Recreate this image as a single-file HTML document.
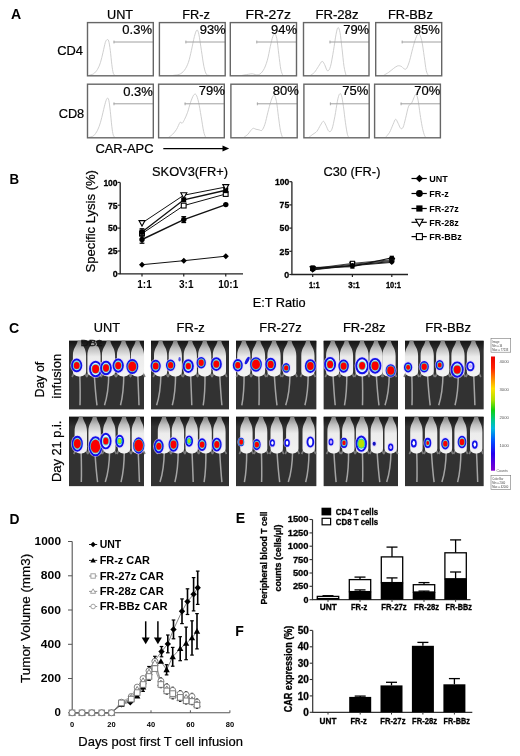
<!DOCTYPE html>
<html><head><meta charset="utf-8"><title>Figure</title><style>html,body{margin:0;padding:0;background:#fff;width:520px;height:756px;overflow:hidden;}svg text{font-family:"Liberation Sans",sans-serif;stroke:#000;stroke-width:0.22px;paint-order:stroke;} svg text[font-weight="bold"]{stroke:none;} svg text.cal{stroke:#000;stroke-width:0.3px;}</style></head><body>
<svg width="520" height="756" viewBox="0 0 520 756" style="position:absolute;left:0;top:0;will-change:transform" font-family='"Liberation Sans", sans-serif'>
<rect width="520" height="756" fill="#fff"/>
<text x="11.1" y="18.8" font-size="14.6" font-weight="bold" textLength="10.2" lengthAdjust="spacingAndGlyphs" fill="#000">A</text>
<text x="107.0" y="18.5" font-size="13" textLength="26.1" lengthAdjust="spacingAndGlyphs" fill="#000">UNT</text>
<text x="182.3" y="18.5" font-size="13" textLength="27.7" lengthAdjust="spacingAndGlyphs" fill="#000">FR-z</text>
<text x="245.4" y="18.5" font-size="13" textLength="45.6" lengthAdjust="spacingAndGlyphs" fill="#000">FR-27z</text>
<text x="315.4" y="18.5" font-size="13" textLength="43.1" lengthAdjust="spacingAndGlyphs" fill="#000">FR-28z</text>
<text x="388.0" y="18.5" font-size="13" textLength="44.8" lengthAdjust="spacingAndGlyphs" fill="#000">FR-BBz</text>
<text x="57.3" y="54.8" font-size="13" textLength="25.7" lengthAdjust="spacingAndGlyphs" fill="#000">CD4</text>
<text x="58.7" y="118.3" font-size="13" textLength="25.5" lengthAdjust="spacingAndGlyphs" fill="#000">CD8</text>
<path d="M89.00,75.30 C89.75,75.05 92.08,74.81 93.50,73.81 C94.92,72.82 96.33,71.24 97.50,69.34 C98.67,67.43 99.58,65.19 100.50,62.38 C101.42,59.56 102.20,55.75 103.00,52.43 C103.80,49.12 104.62,44.61 105.30,42.49 C105.98,40.37 106.53,39.95 107.10,39.70 C107.67,39.45 108.17,39.21 108.70,41.00 C109.23,42.79 109.78,46.55 110.30,50.44 C110.82,54.34 111.30,60.55 111.80,64.36 C112.30,68.18 112.77,71.49 113.30,73.31 C113.83,75.14 114.72,74.97 115.00,75.30" fill="none" stroke="#cacaca" stroke-width="0.9"/>
<line x1="113.5" y1="42.0" x2="153.3" y2="42.0" stroke="#a0a0a0" stroke-width="1"/>
<line x1="114.0" y1="40.5" x2="114.0" y2="43.5" stroke="#a0a0a0" stroke-width="0.8"/>
<rect x="87.5" y="22.6" width="65.8" height="53.2" fill="none" stroke="#666" stroke-width="1.4"/>
<text x="152.0" y="34.4" font-size="13" text-anchor="end" fill="#000">0.3%</text>
<path d="M173.40,75.30 C174.40,75.14 177.57,75.14 179.40,74.31 C181.23,73.48 182.90,72.32 184.40,70.33 C185.90,68.34 187.23,65.69 188.40,62.38 C189.57,59.06 190.40,54.75 191.40,50.44 C192.40,46.13 193.48,39.92 194.40,36.52 C195.32,33.12 196.15,30.39 196.90,30.06 C197.65,29.73 198.15,31.14 198.90,34.53 C199.65,37.93 200.57,45.14 201.40,50.44 C202.23,55.75 203.07,62.38 203.90,66.35 C204.73,70.33 205.48,72.82 206.40,74.31 C207.32,75.80 208.90,75.14 209.40,75.30" fill="none" stroke="#cacaca" stroke-width="0.9"/>
<line x1="185.4" y1="42.0" x2="225.2" y2="42.0" stroke="#a0a0a0" stroke-width="1"/>
<line x1="185.9" y1="40.5" x2="185.9" y2="43.5" stroke="#a0a0a0" stroke-width="0.8"/>
<rect x="159.4" y="22.6" width="65.8" height="53.2" fill="none" stroke="#666" stroke-width="1.4"/>
<text x="225.7" y="34.4" font-size="13" text-anchor="end" fill="#000">93%</text>
<path d="M242.30,75.30 C243.30,75.14 246.63,74.56 248.30,74.31 C249.97,74.06 250.63,73.73 252.30,73.81 C253.97,73.89 256.47,75.39 258.30,74.81 C260.13,74.23 261.80,72.73 263.30,70.33 C264.80,67.93 266.13,64.36 267.30,60.39 C268.47,56.41 269.38,50.44 270.30,46.47 C271.22,42.49 272.05,38.59 272.80,36.52 C273.55,34.45 274.13,33.70 274.80,34.04 C275.47,34.37 276.13,35.11 276.80,38.51 C277.47,41.91 278.13,49.28 278.80,54.42 C279.47,59.56 280.13,65.86 280.80,69.34 C281.47,72.82 282.47,74.31 282.80,75.30" fill="none" stroke="#cacaca" stroke-width="0.9"/>
<line x1="256.3" y1="42.0" x2="296.5" y2="42.0" stroke="#a0a0a0" stroke-width="1"/>
<line x1="256.8" y1="40.5" x2="256.8" y2="43.5" stroke="#a0a0a0" stroke-width="0.8"/>
<rect x="230.3" y="22.6" width="66.2" height="53.2" fill="none" stroke="#666" stroke-width="1.4"/>
<text x="297.0" y="34.4" font-size="13" text-anchor="end" fill="#000">94%</text>
<path d="M310.50,75.30 C311.17,74.81 313.17,73.81 314.50,72.32 C315.83,70.83 317.25,68.18 318.50,66.35 C319.75,64.53 321.00,61.71 322.00,61.38 C323.00,61.05 323.58,62.79 324.50,64.36 C325.42,65.94 326.50,70.50 327.50,70.83 C328.50,71.16 329.50,69.75 330.50,66.35 C331.50,62.96 332.58,55.75 333.50,50.44 C334.42,45.14 335.25,38.34 336.00,34.53 C336.75,30.72 337.33,27.90 338.00,27.57 C338.67,27.24 339.33,29.06 340.00,32.54 C340.67,36.02 341.33,42.82 342.00,48.45 C342.67,54.09 343.33,61.88 344.00,66.35 C344.67,70.83 345.67,73.81 346.00,75.30" fill="none" stroke="#cacaca" stroke-width="0.9"/>
<line x1="329.5" y1="42.0" x2="369.0" y2="42.0" stroke="#a0a0a0" stroke-width="1"/>
<line x1="330.0" y1="40.5" x2="330.0" y2="43.5" stroke="#a0a0a0" stroke-width="0.8"/>
<rect x="303.5" y="22.6" width="65.5" height="53.2" fill="none" stroke="#666" stroke-width="1.4"/>
<text x="369.2" y="34.4" font-size="13" text-anchor="end" fill="#000">79%</text>
<path d="M383.70,75.30 C384.53,74.81 387.03,73.48 388.70,72.32 C390.37,71.16 392.20,69.42 393.70,68.34 C395.20,67.26 396.45,66.19 397.70,65.86 C398.95,65.52 400.12,65.86 401.20,66.35 C402.28,66.85 403.28,68.51 404.20,68.84 C405.12,69.17 405.78,69.75 406.70,68.34 C407.62,66.93 408.70,63.70 409.70,60.39 C410.70,57.07 411.70,52.10 412.70,48.45 C413.70,44.81 414.70,41.00 415.70,38.51 C416.70,36.02 417.70,33.21 418.70,33.54 C419.70,33.87 420.78,36.69 421.70,40.50 C422.62,44.31 423.45,51.44 424.20,56.41 C424.95,61.38 425.53,67.18 426.20,70.33 C426.87,73.48 427.87,74.47 428.20,75.30" fill="none" stroke="#cacaca" stroke-width="0.9"/>
<line x1="401.7" y1="42.0" x2="441.7" y2="42.0" stroke="#a0a0a0" stroke-width="1"/>
<line x1="402.2" y1="40.5" x2="402.2" y2="43.5" stroke="#a0a0a0" stroke-width="0.8"/>
<rect x="375.7" y="22.6" width="66.0" height="53.2" fill="none" stroke="#666" stroke-width="1.4"/>
<text x="439.8" y="34.4" font-size="13" text-anchor="end" fill="#000">85%</text>
<path d="M89.00,137.30 C89.75,137.05 92.08,136.97 93.50,135.80 C94.92,134.63 96.33,132.54 97.50,130.29 C98.67,128.03 99.58,125.28 100.50,122.27 C101.42,119.27 102.17,115.59 103.00,112.25 C103.83,108.91 104.78,104.57 105.50,102.23 C106.22,99.90 106.75,98.56 107.30,98.23 C107.85,97.89 108.30,98.06 108.80,100.23 C109.30,102.40 109.80,106.91 110.30,111.25 C110.80,115.59 111.30,122.27 111.80,126.28 C112.30,130.29 112.77,133.46 113.30,135.30 C113.83,137.13 114.72,136.97 115.00,137.30" fill="none" stroke="#cacaca" stroke-width="0.9"/>
<line x1="113.5" y1="103.8" x2="153.3" y2="103.8" stroke="#a0a0a0" stroke-width="1"/>
<line x1="114.0" y1="102.3" x2="114.0" y2="105.3" stroke="#a0a0a0" stroke-width="0.8"/>
<rect x="87.5" y="84.2" width="65.8" height="53.6" fill="none" stroke="#666" stroke-width="1.4"/>
<text x="152.8" y="96.2" font-size="13" text-anchor="end" fill="#000">0.3%</text>
<path d="M168.60,137.30 C169.27,136.80 171.27,135.63 172.60,134.29 C173.93,132.96 175.35,131.29 176.60,129.28 C177.85,127.28 179.18,123.27 180.10,122.27 C181.02,121.27 181.35,123.77 182.10,123.27 C182.85,122.77 183.68,121.10 184.60,119.27 C185.52,117.43 186.60,115.09 187.60,112.25 C188.60,109.41 189.60,105.07 190.60,102.23 C191.60,99.40 192.68,96.47 193.60,95.22 C194.52,93.97 195.27,93.55 196.10,94.72 C196.93,95.89 197.77,98.64 198.60,102.23 C199.43,105.82 200.27,111.42 201.10,116.26 C201.93,121.10 202.85,127.78 203.60,131.29 C204.35,134.79 205.27,136.30 205.60,137.30" fill="none" stroke="#cacaca" stroke-width="0.9"/>
<line x1="184.6" y1="103.8" x2="224.3" y2="103.8" stroke="#a0a0a0" stroke-width="1"/>
<line x1="185.1" y1="102.3" x2="185.1" y2="105.3" stroke="#a0a0a0" stroke-width="0.8"/>
<rect x="158.6" y="84.2" width="65.7" height="53.6" fill="none" stroke="#666" stroke-width="1.4"/>
<text x="224.9" y="95.3" font-size="13" text-anchor="end" fill="#000">79%</text>
<path d="M243.90,137.30 C244.57,136.80 246.73,135.46 247.90,134.29 C249.07,133.12 249.98,131.29 250.90,130.29 C251.82,129.28 252.57,128.45 253.40,128.28 C254.23,128.12 254.98,129.03 255.90,129.28 C256.82,129.53 257.90,129.62 258.90,129.79 C259.90,129.95 260.90,131.20 261.90,130.29 C262.90,129.37 263.90,127.28 264.90,124.27 C265.90,121.27 266.90,116.09 267.90,112.25 C268.90,108.41 269.90,104.07 270.90,101.23 C271.90,98.39 272.98,95.22 273.90,95.22 C274.82,95.22 275.65,97.73 276.40,101.23 C277.15,104.74 277.73,111.42 278.40,116.26 C279.07,121.10 279.73,126.78 280.40,130.29 C281.07,133.79 282.07,136.13 282.40,137.30" fill="none" stroke="#cacaca" stroke-width="0.9"/>
<line x1="256.9" y1="103.8" x2="297.2" y2="103.8" stroke="#a0a0a0" stroke-width="1"/>
<line x1="257.4" y1="102.3" x2="257.4" y2="105.3" stroke="#a0a0a0" stroke-width="0.8"/>
<rect x="230.9" y="84.2" width="66.3" height="53.6" fill="none" stroke="#666" stroke-width="1.4"/>
<text x="298.8" y="95.3" font-size="13" text-anchor="end" fill="#000">80%</text>
<path d="M308.90,137.30 C309.57,136.80 311.57,135.30 312.90,134.29 C314.23,133.29 315.65,132.79 316.90,131.29 C318.15,129.79 319.32,126.95 320.40,125.28 C321.48,123.61 322.48,121.27 323.40,121.27 C324.32,121.27 324.98,123.61 325.90,125.28 C326.82,126.95 327.90,130.62 328.90,131.29 C329.90,131.96 330.90,131.79 331.90,129.28 C332.90,126.78 333.98,120.94 334.90,116.26 C335.82,111.58 336.65,104.91 337.40,101.23 C338.15,97.56 338.73,95.22 339.40,94.22 C340.07,93.22 340.73,93.22 341.40,95.22 C342.07,97.22 342.73,101.73 343.40,106.24 C344.07,110.75 344.73,117.60 345.40,122.27 C346.07,126.95 346.82,131.79 347.40,134.29 C347.98,136.80 348.65,136.80 348.90,137.30" fill="none" stroke="#cacaca" stroke-width="0.9"/>
<line x1="329.9" y1="103.8" x2="369.2" y2="103.8" stroke="#a0a0a0" stroke-width="1"/>
<line x1="330.4" y1="102.3" x2="330.4" y2="105.3" stroke="#a0a0a0" stroke-width="0.8"/>
<rect x="303.9" y="84.2" width="65.3" height="53.6" fill="none" stroke="#666" stroke-width="1.4"/>
<text x="368.3" y="95.3" font-size="13" text-anchor="end" fill="#000">75%</text>
<path d="M385.60,137.30 C386.27,136.46 388.35,134.46 389.60,132.29 C390.85,130.12 392.10,126.45 393.10,124.27 C394.10,122.10 394.77,119.43 395.60,119.27 C396.43,119.10 397.27,121.77 398.10,123.27 C398.93,124.78 399.77,127.61 400.60,128.28 C401.43,128.95 402.27,128.95 403.10,127.28 C403.93,125.61 404.68,121.77 405.60,118.26 C406.52,114.76 407.60,108.75 408.60,106.24 C409.60,103.74 410.68,104.74 411.60,103.24 C412.52,101.73 413.35,98.73 414.10,97.22 C414.85,95.72 415.43,93.72 416.10,94.22 C416.77,94.72 417.43,96.89 418.10,100.23 C418.77,103.57 419.43,109.91 420.10,114.26 C420.77,118.60 421.43,122.94 422.10,126.28 C422.77,129.62 423.52,132.46 424.10,134.29 C424.68,136.13 425.35,136.80 425.60,137.30" fill="none" stroke="#cacaca" stroke-width="0.9"/>
<line x1="400.6" y1="103.8" x2="440.4" y2="103.8" stroke="#a0a0a0" stroke-width="1"/>
<line x1="401.1" y1="102.3" x2="401.1" y2="105.3" stroke="#a0a0a0" stroke-width="0.8"/>
<rect x="374.6" y="84.2" width="65.8" height="53.6" fill="none" stroke="#666" stroke-width="1.4"/>
<text x="440.3" y="95.3" font-size="13" text-anchor="end" fill="#000">70%</text>
<text x="95.4" y="152.9" font-size="13" textLength="58.1" lengthAdjust="spacingAndGlyphs" fill="#000">CAR-APC</text>
<line x1="163.3" y1="148.6" x2="224" y2="148.6" stroke="#000" stroke-width="1.3"/>
<path d="M222.5,145.6 L229.2,148.6 L222.5,151.6 Z" fill="#000"/>
<text x="9.6" y="183.8" font-size="14.6" font-weight="bold" textLength="9.6" lengthAdjust="spacingAndGlyphs" fill="#000">B</text>
<text x="152.0" y="176.3" font-size="13" textLength="76.0" lengthAdjust="spacingAndGlyphs" fill="#000">SKOV3(FR+)</text>
<text x="323.5" y="176.3" font-size="13" textLength="56.9" lengthAdjust="spacingAndGlyphs" fill="#000">C30 (FR-)</text>
<text transform="translate(94.6,221.3) rotate(-90)" x="0" y="0" font-size="13" text-anchor="middle" textLength="102.5" lengthAdjust="spacingAndGlyphs" fill="#000">Specific Lysis (%)</text>
<text x="252.7" y="306.5" font-size="13" textLength="52.9" lengthAdjust="spacingAndGlyphs" fill="#000">E:T Ratio</text>
<path d="M120.2,182.4 L120.2,273.8 L243.0,273.8" fill="none" stroke="#222" stroke-width="1.3"/>
<line x1="117.60000000000001" y1="273.8" x2="120.2" y2="273.8" stroke="#222" stroke-width="1.2"/>
<text x="117.6" y="277.1" font-size="9.3" font-weight="bold" text-anchor="end" textLength="4.9" lengthAdjust="spacingAndGlyphs" class="cal" fill="#000">0</text>
<line x1="117.60000000000001" y1="251.0" x2="120.2" y2="251.0" stroke="#222" stroke-width="1.2"/>
<text x="117.6" y="254.3" font-size="9.3" font-weight="bold" text-anchor="end" textLength="9.6" lengthAdjust="spacingAndGlyphs" class="cal" fill="#000">25</text>
<line x1="117.60000000000001" y1="228.1" x2="120.2" y2="228.1" stroke="#222" stroke-width="1.2"/>
<text x="117.6" y="231.4" font-size="9.3" font-weight="bold" text-anchor="end" textLength="9.6" lengthAdjust="spacingAndGlyphs" class="cal" fill="#000">50</text>
<line x1="117.60000000000001" y1="205.2" x2="120.2" y2="205.2" stroke="#222" stroke-width="1.2"/>
<text x="117.6" y="208.6" font-size="9.3" font-weight="bold" text-anchor="end" textLength="9.6" lengthAdjust="spacingAndGlyphs" class="cal" fill="#000">75</text>
<line x1="117.60000000000001" y1="182.4" x2="120.2" y2="182.4" stroke="#222" stroke-width="1.2"/>
<text x="117.6" y="185.7" font-size="9.3" font-weight="bold" text-anchor="end" textLength="14.2" lengthAdjust="spacingAndGlyphs" class="cal" fill="#000">100</text>
<line x1="142.0" y1="273.8" x2="142.0" y2="276.40000000000003" stroke="#222" stroke-width="1.2"/>
<text x="144.5" y="288.2" font-size="10" font-weight="bold" text-anchor="middle" fill="#000">1:1</text>
<line x1="183.75" y1="273.8" x2="183.75" y2="276.40000000000003" stroke="#222" stroke-width="1.2"/>
<text x="186.25" y="288.2" font-size="10" font-weight="bold" text-anchor="middle" fill="#000">3:1</text>
<line x1="225.75" y1="273.8" x2="225.75" y2="276.40000000000003" stroke="#222" stroke-width="1.2"/>
<text x="228.25" y="288.2" font-size="10" font-weight="bold" text-anchor="middle" fill="#000">10:1</text>
<path d="M142.0,264.7 L183.8,260.7 L225.8,256.2" fill="none" stroke="#111" stroke-width="1.0"/>
<path d="M142.0,239.5 L183.8,219.6 L225.8,204.6" fill="none" stroke="#111" stroke-width="1.4"/>
<path d="M142.0,233.6 L183.8,205.6 L225.8,194.0" fill="none" stroke="#111" stroke-width="1.0"/>
<path d="M142.0,232.0 L183.8,199.8 L225.8,190.2" fill="none" stroke="#111" stroke-width="1.4"/>
<path d="M142.0,223.0 L183.8,195.2 L225.8,187.0" fill="none" stroke="#111" stroke-width="1.0"/>
<path d="M142.0,261.7 L145.0,264.7 L142.0,267.7 L139.0,264.7 Z" fill="#000"/>
<path d="M183.8,257.7 L186.8,260.7 L183.8,263.7 L180.8,260.7 Z" fill="#000"/>
<path d="M225.8,253.2 L228.8,256.2 L225.8,259.2 L222.8,256.2 Z" fill="#000"/>
<line x1="142.0" y1="235.9" x2="142.0" y2="243.2" stroke="#000" stroke-width="1.3"/>
<line x1="139.6" y1="235.9" x2="144.4" y2="235.9" stroke="#000" stroke-width="1.3"/>
<line x1="139.6" y1="243.2" x2="144.4" y2="243.2" stroke="#000" stroke-width="1.3"/>
<circle cx="142.0" cy="239.5" r="2.7" fill="#000"/>
<line x1="183.75" y1="216.7" x2="183.75" y2="222.5" stroke="#000" stroke-width="1.3"/>
<line x1="181.35" y1="216.7" x2="186.15" y2="216.7" stroke="#000" stroke-width="1.3"/>
<line x1="181.35" y1="222.5" x2="186.15" y2="222.5" stroke="#000" stroke-width="1.3"/>
<circle cx="183.8" cy="219.6" r="2.7" fill="#000"/>
<circle cx="225.8" cy="204.6" r="2.7" fill="#000"/>
<rect x="139.6" y="231.2" width="4.8" height="4.8" fill="#fff" stroke="#000" stroke-width="1.1"/>
<rect x="181.3" y="203.2" width="4.8" height="4.8" fill="#fff" stroke="#000" stroke-width="1.1"/>
<rect x="223.3" y="191.6" width="4.8" height="4.8" fill="#fff" stroke="#000" stroke-width="1.1"/>
<line x1="142.0" y1="228.8" x2="142.0" y2="235.2" stroke="#000" stroke-width="1.3"/>
<line x1="139.6" y1="228.8" x2="144.4" y2="228.8" stroke="#000" stroke-width="1.3"/>
<line x1="139.6" y1="235.2" x2="144.4" y2="235.2" stroke="#000" stroke-width="1.3"/>
<rect x="139.5" y="229.5" width="5.0" height="5.0" fill="#000"/>
<rect x="181.2" y="197.3" width="5.0" height="5.0" fill="#000"/>
<line x1="225.75" y1="187.9" x2="225.75" y2="192.5" stroke="#000" stroke-width="1.3"/>
<line x1="223.35" y1="187.9" x2="228.15" y2="187.9" stroke="#000" stroke-width="1.3"/>
<line x1="223.35" y1="192.5" x2="228.15" y2="192.5" stroke="#000" stroke-width="1.3"/>
<rect x="223.2" y="187.7" width="5.0" height="5.0" fill="#000"/>
<path d="M139.0,220.6 L145.0,220.6 L142.0,226.0 Z" fill="#fff" stroke="#000" stroke-width="1.1"/>
<path d="M180.8,192.8 L186.8,192.8 L183.8,198.2 Z" fill="#fff" stroke="#000" stroke-width="1.1"/>
<path d="M222.8,184.6 L228.8,184.6 L225.8,190.0 Z" fill="#fff" stroke="#000" stroke-width="1.1"/>
<path d="M291.9,181.7 L291.9,274.5 L408.0,274.5" fill="none" stroke="#222" stroke-width="1.3"/>
<line x1="289.29999999999995" y1="274.5" x2="291.9" y2="274.5" stroke="#222" stroke-width="1.2"/>
<text x="289.2" y="277.8" font-size="9.3" font-weight="bold" text-anchor="end" textLength="4.9" lengthAdjust="spacingAndGlyphs" class="cal" fill="#000">0</text>
<line x1="289.29999999999995" y1="251.3" x2="291.9" y2="251.3" stroke="#222" stroke-width="1.2"/>
<text x="289.2" y="254.6" font-size="9.3" font-weight="bold" text-anchor="end" textLength="9.6" lengthAdjust="spacingAndGlyphs" class="cal" fill="#000">25</text>
<line x1="289.29999999999995" y1="228.1" x2="291.9" y2="228.1" stroke="#222" stroke-width="1.2"/>
<text x="289.2" y="231.4" font-size="9.3" font-weight="bold" text-anchor="end" textLength="9.6" lengthAdjust="spacingAndGlyphs" class="cal" fill="#000">50</text>
<line x1="289.29999999999995" y1="204.9" x2="291.9" y2="204.9" stroke="#222" stroke-width="1.2"/>
<text x="289.2" y="208.2" font-size="9.3" font-weight="bold" text-anchor="end" textLength="9.6" lengthAdjust="spacingAndGlyphs" class="cal" fill="#000">75</text>
<line x1="289.29999999999995" y1="181.7" x2="291.9" y2="181.7" stroke="#222" stroke-width="1.2"/>
<text x="289.2" y="185.0" font-size="9.3" font-weight="bold" text-anchor="end" textLength="14.2" lengthAdjust="spacingAndGlyphs" class="cal" fill="#000">100</text>
<line x1="312.7" y1="274.5" x2="312.7" y2="277.1" stroke="#222" stroke-width="1.2"/>
<text x="314.3" y="287.5" font-size="9.5" font-weight="bold" text-anchor="middle" textLength="10.8" lengthAdjust="spacingAndGlyphs" class="cal" fill="#000">1:1</text>
<line x1="352.4" y1="274.5" x2="352.4" y2="277.1" stroke="#222" stroke-width="1.2"/>
<text x="354.0" y="287.5" font-size="9.5" font-weight="bold" text-anchor="middle" textLength="11.5" lengthAdjust="spacingAndGlyphs" class="cal" fill="#000">3:1</text>
<line x1="391.8" y1="274.5" x2="391.8" y2="277.1" stroke="#222" stroke-width="1.2"/>
<text x="393.40000000000003" y="287.5" font-size="9.5" font-weight="bold" text-anchor="middle" textLength="15.0" lengthAdjust="spacingAndGlyphs" class="cal" fill="#000">10:1</text>
<path d="M312.7,268.9 L352.4,264.3 L391.8,260.6" fill="none" stroke="#111" stroke-width="0.8"/>
<path d="M312.7,268.5 L352.4,263.4 L391.8,259.7" fill="none" stroke="#111" stroke-width="0.8"/>
<path d="M312.7,269.9 L352.4,265.7 L391.8,262.4" fill="none" stroke="#111" stroke-width="0.9"/>
<path d="M312.7,269.4 L352.4,265.2 L391.8,261.5" fill="none" stroke="#111" stroke-width="1.1"/>
<path d="M312.7,267.5 L352.4,266.6 L391.8,257.8" fill="none" stroke="#111" stroke-width="1.1"/>
<path d="M310.1,266.9 L315.2,266.9 L312.7,271.5 Z" fill="#fff" stroke="#000" stroke-width="1.1"/>
<path d="M349.8,262.3 L354.9,262.3 L352.4,266.8 Z" fill="#fff" stroke="#000" stroke-width="1.1"/>
<path d="M389.2,258.5 L394.4,258.5 L391.8,263.1 Z" fill="#fff" stroke="#000" stroke-width="1.1"/>
<rect x="310.7" y="266.4" width="4.1" height="4.1" fill="#fff" stroke="#000" stroke-width="1.1"/>
<rect x="350.4" y="261.3" width="4.1" height="4.1" fill="#fff" stroke="#000" stroke-width="1.1"/>
<rect x="389.8" y="257.6" width="4.1" height="4.1" fill="#fff" stroke="#000" stroke-width="1.1"/>
<path d="M312.7,267.3 L315.2,269.9 L312.7,272.4 L310.1,269.9 Z" fill="#000"/>
<path d="M352.4,263.1 L354.9,265.7 L352.4,268.2 L349.8,265.7 Z" fill="#000"/>
<path d="M391.8,259.9 L394.4,262.4 L391.8,265.0 L389.2,262.4 Z" fill="#000"/>
<circle cx="312.7" cy="269.4" r="2.3" fill="#000"/>
<circle cx="352.4" cy="265.2" r="2.3" fill="#000"/>
<circle cx="391.8" cy="261.5" r="2.3" fill="#000"/>
<rect x="310.6" y="265.4" width="4.2" height="4.2" fill="#000"/>
<rect x="350.3" y="264.5" width="4.2" height="4.2" fill="#000"/>
<rect x="389.7" y="255.7" width="4.2" height="4.2" fill="#000"/>
<line x1="411.5" y1="178.5" x2="426.8" y2="178.5" stroke="#000" stroke-width="1.2"/>
<path d="M419.4,174.8 L423.1,178.5 L419.4,182.2 L415.6,178.5 Z" fill="#000"/>
<text x="429.3" y="181.8" font-size="9" font-weight="bold" fill="#000">UNT</text>
<line x1="411.5" y1="193.5" x2="426.8" y2="193.5" stroke="#000" stroke-width="1.2"/>
<circle cx="419.4" cy="193.5" r="3.4" fill="#000"/>
<text x="429.3" y="196.8" font-size="9" font-weight="bold" fill="#000">FR-z</text>
<line x1="411.5" y1="208.5" x2="426.8" y2="208.5" stroke="#000" stroke-width="1.2"/>
<rect x="416.3" y="205.4" width="6.2" height="6.2" fill="#000"/>
<text x="429.3" y="211.8" font-size="9" font-weight="bold" fill="#000">FR-27z</text>
<line x1="411.5" y1="222.3" x2="426.8" y2="222.3" stroke="#000" stroke-width="1.2"/>
<path d="M415.6,219.3 L423.1,219.3 L419.4,226.1 Z" fill="#fff" stroke="#000" stroke-width="1.1"/>
<text x="429.3" y="225.6" font-size="9" font-weight="bold" fill="#000">FR-28z</text>
<line x1="411.5" y1="236.6" x2="426.8" y2="236.6" stroke="#000" stroke-width="1.2"/>
<rect x="416.4" y="233.6" width="6.0" height="6.0" fill="#fff" stroke="#000" stroke-width="1.1"/>
<text x="429.3" y="239.9" font-size="9" font-weight="bold" fill="#000">FR-BBz</text>
<text x="9.0" y="333.4" font-size="14.6" font-weight="bold" textLength="10.2" lengthAdjust="spacingAndGlyphs" fill="#000">C</text>
<text x="93.8" y="331.6" font-size="13" textLength="26.2" lengthAdjust="spacingAndGlyphs" fill="#000">UNT</text>
<text x="176.6" y="331.6" font-size="13" textLength="28.1" lengthAdjust="spacingAndGlyphs" fill="#000">FR-z</text>
<text x="259.3" y="331.6" font-size="13" textLength="42.5" lengthAdjust="spacingAndGlyphs" fill="#000">FR-27z</text>
<text x="342.9" y="331.6" font-size="13" textLength="42.5" lengthAdjust="spacingAndGlyphs" fill="#000">FR-28z</text>
<text x="425.3" y="331.6" font-size="13" textLength="45.7" lengthAdjust="spacingAndGlyphs" fill="#000">FR-BBz</text>
<text transform="translate(44.3,379.6) rotate(-90)" x="0" y="0" font-size="13" text-anchor="middle" textLength="35.7" lengthAdjust="spacingAndGlyphs" fill="#000">Day of</text>
<text transform="translate(60.7,376.2) rotate(-90)" x="0" y="0" font-size="13" text-anchor="middle" textLength="44.6" lengthAdjust="spacingAndGlyphs" fill="#000">infusion</text>
<text transform="translate(61.2,451.3) rotate(-90)" x="0" y="0" font-size="13" text-anchor="middle" textLength="61.4" lengthAdjust="spacingAndGlyphs" fill="#000">Day 21 p.i.</text>
<defs><linearGradient id="bodyG" x1="0" y1="0" x2="0" y2="1"><stop offset="0" stop-color="#808080"/><stop offset="0.22" stop-color="#c0c0c0"/><stop offset="0.45" stop-color="#ececec"/><stop offset="1" stop-color="#f3f3f3"/></linearGradient><linearGradient id="headG" x1="0" y1="0" x2="0" y2="1"><stop offset="0" stop-color="#bdbdbd"/><stop offset="1" stop-color="#f4f4f4"/></linearGradient><linearGradient id="cbar" x1="0" y1="0" x2="0" y2="1"><stop offset="0" stop-color="#e80000"/><stop offset="0.1" stop-color="#ff2000"/><stop offset="0.2" stop-color="#ff9000"/><stop offset="0.28" stop-color="#ffe000"/><stop offset="0.38" stop-color="#b0e000"/><stop offset="0.47" stop-color="#10d010"/><stop offset="0.56" stop-color="#00c890"/><stop offset="0.63" stop-color="#00b8e0"/><stop offset="0.74" stop-color="#0050ff"/><stop offset="0.85" stop-color="#2000f0"/><stop offset="1" stop-color="#8000d0"/></linearGradient><linearGradient id="topDark" x1="0" y1="0" x2="0" y2="1"><stop offset="0" stop-color="#141414"/><stop offset="1" stop-color="#141414" stop-opacity="0"/></linearGradient></defs>
<rect x="69.0" y="340.8" width="75.0" height="68.5" fill="#2e2e2e"/>
<rect x="69.0" y="340.8" width="75.0" height="68.5" fill="#3a3a3a" opacity="0.3"/>
<rect x="69.0" y="340.8" width="75.0" height="10" fill="url(#topDark)"/>
<path d="M79.8,374.5 Q80.4,392.9 80.0,405.3" fill="none" stroke="#a4a4a4" stroke-width="1.5"/>
<path d="M74.4,372.5 l-2.4,4.5 M84.6,372.5 l2.4,4.5" stroke="#7c7c7c" stroke-width="1.6" fill="none"/>
<path d="M77.7,340.8 L81.3,340.8 C82.5,346.8 86.1,347.8 86.1,355.8 L86.1,371.5 C86.1,375.5 81.5,376.5 79.5,376.5 C77.5,376.5 72.9,375.5 72.9,371.5 L72.9,355.8 C72.9,347.8 76.5,346.8 77.7,340.8 Z" fill="url(#bodyG)"/>
<path d="M94.3,374.5 Q95.4,392.9 97.0,405.3" fill="none" stroke="#a4a4a4" stroke-width="1.5"/>
<path d="M88.9,372.5 l-2.4,4.5 M99.1,372.5 l2.4,4.5" stroke="#7c7c7c" stroke-width="1.6" fill="none"/>
<path d="M92.2,340.8 L95.8,340.8 C97.0,346.8 100.6,347.8 100.6,355.8 L100.6,371.5 C100.6,375.5 96.0,376.5 94.0,376.5 C92.0,376.5 87.4,375.5 87.4,371.5 L87.4,355.8 C87.4,347.8 91.0,346.8 92.2,340.8 Z" fill="url(#bodyG)"/>
<path d="M108.8,374.5 Q108.5,392.9 104.5,405.3" fill="none" stroke="#a4a4a4" stroke-width="1.5"/>
<path d="M103.4,372.5 l-2.4,4.5 M113.6,372.5 l2.4,4.5" stroke="#7c7c7c" stroke-width="1.6" fill="none"/>
<path d="M106.7,340.8 L110.3,340.8 C111.5,346.8 115.1,347.8 115.1,355.8 L115.1,371.5 C115.1,375.5 110.5,376.5 108.5,376.5 C106.5,376.5 101.9,375.5 101.9,371.5 L101.9,355.8 C101.9,347.8 105.5,346.8 106.7,340.8 Z" fill="url(#bodyG)"/>
<path d="M123.8,374.5 Q123.7,392.9 120.5,405.3" fill="none" stroke="#a4a4a4" stroke-width="1.5"/>
<path d="M118.4,372.5 l-2.4,4.5 M128.6,372.5 l2.4,4.5" stroke="#7c7c7c" stroke-width="1.6" fill="none"/>
<path d="M121.7,340.8 L125.3,340.8 C126.5,346.8 130.1,347.8 130.1,355.8 L130.1,371.5 C130.1,375.5 125.5,376.5 123.5,376.5 C121.5,376.5 116.9,375.5 116.9,371.5 L116.9,355.8 C116.9,347.8 120.5,346.8 121.7,340.8 Z" fill="url(#bodyG)"/>
<path d="M137.8,374.5 Q138.6,392.9 139.0,405.3" fill="none" stroke="#a4a4a4" stroke-width="1.5"/>
<path d="M132.4,372.5 l-2.4,4.5 M142.6,372.5 l2.4,4.5" stroke="#7c7c7c" stroke-width="1.6" fill="none"/>
<path d="M135.7,340.8 L139.3,340.8 C140.5,346.8 144.1,347.8 144.1,355.8 L144.1,371.5 C144.1,375.5 139.5,376.5 137.5,376.5 C135.5,376.5 130.9,375.5 130.9,371.5 L130.9,355.8 C130.9,347.8 134.5,346.8 135.7,340.8 Z" fill="url(#bodyG)"/>
<ellipse cx="76.7" cy="365.4" rx="6.4" ry="7.7" fill="#d8c8ff" opacity="0.7"/>
<ellipse cx="76.7" cy="365.4" rx="4.6" ry="5.9" fill="#e8f4ff" stroke="#1010e8" stroke-width="1.9"/>
<ellipse cx="76.7" cy="365.4" rx="3.8" ry="4.4" fill="#40d0c0" opacity="0.8"/>
<ellipse cx="76.7" cy="365.4" rx="2.9" ry="3.5" fill="#f80000"/>
<ellipse cx="95.6" cy="369.0" rx="7.4" ry="9.1" fill="#d8c8ff" opacity="0.7"/>
<ellipse cx="95.6" cy="369.0" rx="5.6" ry="7.3" fill="#e8f4ff" stroke="#1010e8" stroke-width="1.9"/>
<ellipse cx="95.6" cy="369.0" rx="4.4" ry="5.1" fill="#40d0c0" opacity="0.8"/>
<ellipse cx="95.6" cy="369.0" rx="3.5" ry="4.2" fill="#f80000"/>
<ellipse cx="106.0" cy="368.0" rx="6.7" ry="8.1" fill="#d8c8ff" opacity="0.7"/>
<ellipse cx="106.0" cy="368.0" rx="4.9" ry="6.3" fill="#e8f4ff" stroke="#1010e8" stroke-width="1.9"/>
<ellipse cx="106.0" cy="368.0" rx="3.9" ry="4.6" fill="#40d0c0" opacity="0.8"/>
<ellipse cx="106.0" cy="368.0" rx="3.0" ry="3.7" fill="#f80000"/>
<ellipse cx="118.2" cy="365.6" rx="6.5" ry="7.9" fill="#d8c8ff" opacity="0.7"/>
<ellipse cx="118.2" cy="365.6" rx="4.7" ry="6.1" fill="#e8f4ff" stroke="#1010e8" stroke-width="1.9"/>
<ellipse cx="118.2" cy="365.6" rx="3.9" ry="4.6" fill="#40d0c0" opacity="0.8"/>
<ellipse cx="118.2" cy="365.6" rx="3.0" ry="3.7" fill="#f80000"/>
<ellipse cx="132.3" cy="366.5" rx="6.8" ry="8.3" fill="#d8c8ff" opacity="0.7"/>
<ellipse cx="132.3" cy="366.5" rx="5.0" ry="6.5" fill="#e8f4ff" stroke="#1010e8" stroke-width="1.9"/>
<ellipse cx="132.3" cy="366.5" rx="4.9" ry="5.8" fill="#40d0c0" opacity="0.8"/>
<ellipse cx="132.3" cy="366.5" rx="4.0" ry="4.9" fill="#f80000"/>
<rect x="69.0" y="416.8" width="75.0" height="69.3" fill="#2e2e2e"/>
<rect x="69.0" y="416.8" width="75.0" height="69.3" fill="#3a3a3a" opacity="0.3"/>
<rect x="69.0" y="416.8" width="75.0" height="10" fill="url(#topDark)"/>
<path d="M81.1,451.5 Q81.7,469.8 81.3,482.1" fill="none" stroke="#a4a4a4" stroke-width="1.5"/>
<path d="M76.1,449.5 l-2.4,4.5 M85.5,449.5 l2.4,4.5" stroke="#7c7c7c" stroke-width="1.6" fill="none"/>
<path d="M79.0,416.8 L82.6,416.8 C83.8,422.8 87.0,423.8 87.0,431.8 L87.0,448.5 C87.0,452.5 82.8,453.5 80.8,453.5 C78.8,453.5 74.6,452.5 74.6,448.5 L74.6,431.8 C74.6,423.8 77.8,422.8 79.0,416.8 Z" fill="url(#bodyG)"/>
<path d="M94.9,451.5 Q96.0,469.8 97.6,482.1" fill="none" stroke="#a4a4a4" stroke-width="1.5"/>
<path d="M89.9,449.5 l-2.4,4.5 M99.3,449.5 l2.4,4.5" stroke="#7c7c7c" stroke-width="1.6" fill="none"/>
<path d="M92.8,416.8 L96.4,416.8 C97.6,422.8 100.8,423.8 100.8,431.8 L100.8,448.5 C100.8,452.5 96.6,453.5 94.6,453.5 C92.6,453.5 88.4,452.5 88.4,448.5 L88.4,431.8 C88.4,423.8 91.6,422.8 92.8,416.8 Z" fill="url(#bodyG)"/>
<path d="M109.6,451.5 Q109.3,469.8 105.3,482.1" fill="none" stroke="#a4a4a4" stroke-width="1.5"/>
<path d="M104.6,449.5 l-2.4,4.5 M114.0,449.5 l2.4,4.5" stroke="#7c7c7c" stroke-width="1.6" fill="none"/>
<path d="M107.5,416.8 L111.1,416.8 C112.3,422.8 115.5,423.8 115.5,431.8 L115.5,448.5 C115.5,452.5 111.3,453.5 109.3,453.5 C107.3,453.5 103.1,452.5 103.1,448.5 L103.1,431.8 C103.1,423.8 106.3,422.8 107.5,416.8 Z" fill="url(#bodyG)"/>
<path d="M124.3,451.5 Q124.2,469.8 121.0,482.1" fill="none" stroke="#a4a4a4" stroke-width="1.5"/>
<path d="M119.3,449.5 l-2.4,4.5 M128.7,449.5 l2.4,4.5" stroke="#7c7c7c" stroke-width="1.6" fill="none"/>
<path d="M122.2,416.8 L125.8,416.8 C127.0,422.8 130.2,423.8 130.2,431.8 L130.2,448.5 C130.2,452.5 126.0,453.5 124.0,453.5 C122.0,453.5 117.8,452.5 117.8,448.5 L117.8,431.8 C117.8,423.8 121.0,422.8 122.2,416.8 Z" fill="url(#bodyG)"/>
<path d="M138.2,451.5 Q139.0,469.8 139.4,482.1" fill="none" stroke="#a4a4a4" stroke-width="1.5"/>
<path d="M133.2,449.5 l-2.4,4.5 M142.6,449.5 l2.4,4.5" stroke="#7c7c7c" stroke-width="1.6" fill="none"/>
<path d="M136.1,416.8 L139.7,416.8 C140.9,422.8 144.1,423.8 144.1,431.8 L144.1,448.5 C144.1,452.5 139.9,453.5 137.9,453.5 C135.9,453.5 131.7,452.5 131.7,448.5 L131.7,431.8 C131.7,423.8 134.9,422.8 136.1,416.8 Z" fill="url(#bodyG)"/>
<ellipse cx="77.3" cy="443.7" rx="6.4" ry="8.8" fill="#d8c8ff" opacity="0.7"/>
<ellipse cx="77.3" cy="443.7" rx="4.6" ry="7.0" fill="#e8f4ff" stroke="#1010e8" stroke-width="1.9"/>
<ellipse cx="77.3" cy="443.7" rx="4.4" ry="5.7" fill="#40d0c0" opacity="0.8"/>
<ellipse cx="77.3" cy="443.7" rx="3.5" ry="4.8" fill="#f80000"/>
<ellipse cx="95.5" cy="446.3" rx="7.7" ry="10.8" fill="#d8c8ff" opacity="0.7"/>
<ellipse cx="95.5" cy="446.3" rx="5.9" ry="9.0" fill="#e8f4ff" stroke="#1010e8" stroke-width="1.9"/>
<ellipse cx="95.5" cy="446.3" rx="5.7" ry="7.4" fill="#40d0c0" opacity="0.8"/>
<ellipse cx="95.5" cy="446.3" rx="4.8" ry="6.5" fill="#f80000"/>
<ellipse cx="105.8" cy="441.1" rx="6.6" ry="9.2" fill="#d8c8ff" opacity="0.7"/>
<ellipse cx="105.8" cy="441.1" rx="4.8" ry="7.3" fill="#e8f4ff" stroke="#1010e8" stroke-width="1.9"/>
<ellipse cx="105.8" cy="441.1" rx="3.5" ry="4.4" fill="#40d0c0" opacity="0.8"/>
<ellipse cx="105.8" cy="441.1" rx="2.6" ry="3.5" fill="#f80000"/>
<ellipse cx="119.7" cy="441.1" rx="5.2" ry="7.2" fill="#d8c8ff" opacity="0.7"/>
<ellipse cx="119.7" cy="441.1" rx="3.4" ry="5.4" fill="#e8f4ff" stroke="#1010e8" stroke-width="1.9"/>
<ellipse cx="119.7" cy="441.1" rx="2.7" ry="3.4" fill="#10c8c8"/>
<ellipse cx="119.7" cy="441.1" rx="1.7" ry="2.4" fill="#b8e000"/>
<ellipse cx="138.7" cy="445.5" rx="6.5" ry="9.0" fill="#d8c8ff" opacity="0.7"/>
<ellipse cx="138.7" cy="445.5" rx="4.7" ry="7.2" fill="#e8f4ff" stroke="#1010e8" stroke-width="1.9"/>
<ellipse cx="138.7" cy="445.5" rx="5.2" ry="6.8" fill="#40d0c0" opacity="0.8"/>
<ellipse cx="138.7" cy="445.5" rx="4.3" ry="5.9" fill="#f80000"/>
<rect x="151.0" y="340.8" width="78.0" height="68.5" fill="#2e2e2e"/>
<rect x="151.0" y="340.8" width="78.0" height="68.5" fill="#3a3a3a" opacity="0.3"/>
<rect x="151.0" y="340.8" width="78.0" height="10" fill="url(#topDark)"/>
<path d="M160.9,374.5 Q160.6,392.9 156.6,405.3" fill="none" stroke="#a4a4a4" stroke-width="1.5"/>
<path d="M155.5,372.5 l-2.4,4.5 M165.7,372.5 l2.4,4.5" stroke="#7c7c7c" stroke-width="1.6" fill="none"/>
<path d="M158.8,340.8 L162.4,340.8 C163.6,346.8 167.2,347.8 167.2,355.8 L167.2,371.5 C167.2,375.5 162.6,376.5 160.6,376.5 C158.6,376.5 154.0,375.5 154.0,371.5 L154.0,355.8 C154.0,347.8 157.6,346.8 158.8,340.8 Z" fill="url(#bodyG)"/>
<path d="M175.6,374.5 Q175.5,392.9 172.3,405.3" fill="none" stroke="#a4a4a4" stroke-width="1.5"/>
<path d="M170.2,372.5 l-2.4,4.5 M180.4,372.5 l2.4,4.5" stroke="#7c7c7c" stroke-width="1.6" fill="none"/>
<path d="M173.5,340.8 L177.1,340.8 C178.3,346.8 181.9,347.8 181.9,355.8 L181.9,371.5 C181.9,375.5 177.3,376.5 175.3,376.5 C173.3,376.5 168.7,375.5 168.7,371.5 L168.7,355.8 C168.7,347.8 172.3,346.8 173.5,340.8 Z" fill="url(#bodyG)"/>
<path d="M190.6,374.5 Q191.4,392.9 191.8,405.3" fill="none" stroke="#a4a4a4" stroke-width="1.5"/>
<path d="M185.2,372.5 l-2.4,4.5 M195.4,372.5 l2.4,4.5" stroke="#7c7c7c" stroke-width="1.6" fill="none"/>
<path d="M188.5,340.8 L192.1,340.8 C193.3,346.8 196.9,347.8 196.9,355.8 L196.9,371.5 C196.9,375.5 192.3,376.5 190.3,376.5 C188.3,376.5 183.7,375.5 183.7,371.5 L183.7,355.8 C183.7,347.8 187.3,346.8 188.5,340.8 Z" fill="url(#bodyG)"/>
<path d="M205.0,374.5 Q205.2,392.9 203.2,405.3" fill="none" stroke="#a4a4a4" stroke-width="1.5"/>
<path d="M199.6,372.5 l-2.4,4.5 M209.8,372.5 l2.4,4.5" stroke="#7c7c7c" stroke-width="1.6" fill="none"/>
<path d="M202.9,340.8 L206.5,340.8 C207.7,346.8 211.3,347.8 211.3,355.8 L211.3,371.5 C211.3,375.5 206.7,376.5 204.7,376.5 C202.7,376.5 198.1,375.5 198.1,371.5 L198.1,355.8 C198.1,347.8 201.7,346.8 202.9,340.8 Z" fill="url(#bodyG)"/>
<path d="M219.7,374.5 Q220.7,392.9 221.9,405.3" fill="none" stroke="#a4a4a4" stroke-width="1.5"/>
<path d="M214.3,372.5 l-2.4,4.5 M224.5,372.5 l2.4,4.5" stroke="#7c7c7c" stroke-width="1.6" fill="none"/>
<path d="M217.6,340.8 L221.2,340.8 C222.4,346.8 226.0,347.8 226.0,355.8 L226.0,371.5 C226.0,375.5 221.4,376.5 219.4,376.5 C217.4,376.5 212.8,375.5 212.8,371.5 L212.8,355.8 C212.8,347.8 216.4,346.8 217.6,340.8 Z" fill="url(#bodyG)"/>
<ellipse cx="155.7" cy="366.1" rx="5.9" ry="7.2" fill="#d8c8ff" opacity="0.7"/>
<ellipse cx="155.7" cy="366.1" rx="4.1" ry="5.4" fill="#e8f4ff" stroke="#1010e8" stroke-width="1.9"/>
<ellipse cx="155.7" cy="366.1" rx="3.8" ry="4.4" fill="#40d0c0" opacity="0.8"/>
<ellipse cx="155.7" cy="366.1" rx="2.9" ry="3.5" fill="#f80000"/>
<ellipse cx="170.6" cy="365.3" rx="5.5" ry="6.6" fill="#d8c8ff" opacity="0.7"/>
<ellipse cx="170.6" cy="365.3" rx="3.7" ry="4.8" fill="#e8f4ff" stroke="#1010e8" stroke-width="1.9"/>
<ellipse cx="170.6" cy="365.3" rx="3.5" ry="4.1" fill="#40d0c0" opacity="0.8"/>
<ellipse cx="170.6" cy="365.3" rx="2.6" ry="3.2" fill="#f80000"/>
<ellipse cx="188.3" cy="366.1" rx="6.4" ry="7.7" fill="#d8c8ff" opacity="0.7"/>
<ellipse cx="188.3" cy="366.1" rx="4.6" ry="5.9" fill="#e8f4ff" stroke="#1010e8" stroke-width="1.9"/>
<ellipse cx="188.3" cy="366.1" rx="3.5" ry="4.1" fill="#40d0c0" opacity="0.8"/>
<ellipse cx="188.3" cy="366.1" rx="2.6" ry="3.2" fill="#f80000"/>
<ellipse cx="201.2" cy="362.7" rx="5.5" ry="6.6" fill="#d8c8ff" opacity="0.7"/>
<ellipse cx="201.2" cy="362.7" rx="3.7" ry="4.8" fill="#e8f4ff" stroke="#1010e8" stroke-width="1.9"/>
<ellipse cx="201.2" cy="362.7" rx="3.5" ry="4.1" fill="#40d0c0" opacity="0.8"/>
<ellipse cx="201.2" cy="362.7" rx="2.6" ry="3.2" fill="#f80000"/>
<ellipse cx="216.3" cy="364.1" rx="6.4" ry="7.7" fill="#d8c8ff" opacity="0.7"/>
<ellipse cx="216.3" cy="364.1" rx="4.6" ry="5.9" fill="#e8f4ff" stroke="#1010e8" stroke-width="1.9"/>
<ellipse cx="216.3" cy="364.1" rx="3.9" ry="4.6" fill="#40d0c0" opacity="0.8"/>
<ellipse cx="216.3" cy="364.1" rx="3.0" ry="3.7" fill="#f80000"/>
<rect x="151.0" y="416.8" width="78.0" height="69.3" fill="#2e2e2e"/>
<rect x="151.0" y="416.8" width="78.0" height="69.3" fill="#3a3a3a" opacity="0.3"/>
<rect x="151.0" y="416.8" width="78.0" height="10" fill="url(#topDark)"/>
<path d="M164.3,451.5 Q164.0,469.8 160.0,482.1" fill="none" stroke="#a4a4a4" stroke-width="1.5"/>
<path d="M159.3,449.5 l-2.4,4.5 M168.7,449.5 l2.4,4.5" stroke="#7c7c7c" stroke-width="1.6" fill="none"/>
<path d="M162.2,416.8 L165.8,416.8 C167.0,422.8 170.2,423.8 170.2,431.8 L170.2,448.5 C170.2,452.5 166.0,453.5 164.0,453.5 C162.0,453.5 157.8,452.5 157.8,448.5 L157.8,431.8 C157.8,423.8 161.0,422.8 162.2,416.8 Z" fill="url(#bodyG)"/>
<path d="M178.2,451.5 Q178.1,469.8 174.9,482.1" fill="none" stroke="#a4a4a4" stroke-width="1.5"/>
<path d="M173.2,449.5 l-2.4,4.5 M182.6,449.5 l2.4,4.5" stroke="#7c7c7c" stroke-width="1.6" fill="none"/>
<path d="M176.1,416.8 L179.7,416.8 C180.9,422.8 184.1,423.8 184.1,431.8 L184.1,448.5 C184.1,452.5 179.9,453.5 177.9,453.5 C175.9,453.5 171.7,452.5 171.7,448.5 L171.7,431.8 C171.7,423.8 174.9,422.8 176.1,416.8 Z" fill="url(#bodyG)"/>
<path d="M192.0,451.5 Q192.8,469.8 193.2,482.1" fill="none" stroke="#a4a4a4" stroke-width="1.5"/>
<path d="M187.0,449.5 l-2.4,4.5 M196.4,449.5 l2.4,4.5" stroke="#7c7c7c" stroke-width="1.6" fill="none"/>
<path d="M189.9,416.8 L193.5,416.8 C194.7,422.8 197.9,423.8 197.9,431.8 L197.9,448.5 C197.9,452.5 193.7,453.5 191.7,453.5 C189.7,453.5 185.5,452.5 185.5,448.5 L185.5,431.8 C185.5,423.8 188.7,422.8 189.9,416.8 Z" fill="url(#bodyG)"/>
<path d="M205.9,451.5 Q206.1,469.8 204.1,482.1" fill="none" stroke="#a4a4a4" stroke-width="1.5"/>
<path d="M200.9,449.5 l-2.4,4.5 M210.3,449.5 l2.4,4.5" stroke="#7c7c7c" stroke-width="1.6" fill="none"/>
<path d="M203.8,416.8 L207.4,416.8 C208.6,422.8 211.8,423.8 211.8,431.8 L211.8,448.5 C211.8,452.5 207.6,453.5 205.6,453.5 C203.6,453.5 199.4,452.5 199.4,448.5 L199.4,431.8 C199.4,423.8 202.6,422.8 203.8,416.8 Z" fill="url(#bodyG)"/>
<path d="M219.7,451.5 Q220.7,469.8 221.9,482.1" fill="none" stroke="#a4a4a4" stroke-width="1.5"/>
<path d="M214.7,449.5 l-2.4,4.5 M224.1,449.5 l2.4,4.5" stroke="#7c7c7c" stroke-width="1.6" fill="none"/>
<path d="M217.6,416.8 L221.2,416.8 C222.4,422.8 225.6,423.8 225.6,431.8 L225.6,448.5 C225.6,452.5 221.4,453.5 219.4,453.5 C217.4,453.5 213.2,452.5 213.2,448.5 L213.2,431.8 C213.2,423.8 216.4,422.8 217.6,416.8 Z" fill="url(#bodyG)"/>
<ellipse cx="158.8" cy="446.3" rx="5.7" ry="7.8" fill="#d8c8ff" opacity="0.7"/>
<ellipse cx="158.8" cy="446.3" rx="3.9" ry="6.0" fill="#e8f4ff" stroke="#1010e8" stroke-width="1.9"/>
<ellipse cx="158.8" cy="446.3" rx="3.5" ry="4.4" fill="#40d0c0" opacity="0.8"/>
<ellipse cx="158.8" cy="446.3" rx="2.6" ry="3.5" fill="#f80000"/>
<ellipse cx="173.5" cy="444.6" rx="5.8" ry="8.1" fill="#d8c8ff" opacity="0.7"/>
<ellipse cx="173.5" cy="444.6" rx="4.0" ry="6.2" fill="#e8f4ff" stroke="#1010e8" stroke-width="1.9"/>
<ellipse cx="173.5" cy="444.6" rx="3.9" ry="5.0" fill="#40d0c0" opacity="0.8"/>
<ellipse cx="173.5" cy="444.6" rx="3.0" ry="4.1" fill="#f80000"/>
<ellipse cx="189.1" cy="441.1" rx="4.8" ry="6.5" fill="#d8c8ff" opacity="0.7"/>
<ellipse cx="189.1" cy="441.1" rx="3.0" ry="4.7" fill="#e8f4ff" stroke="#1010e8" stroke-width="1.9"/>
<ellipse cx="189.1" cy="441.1" rx="2.4" ry="3.0" fill="#10c8c8"/>
<ellipse cx="189.1" cy="441.1" rx="1.4" ry="2.0" fill="#b8e000"/>
<ellipse cx="202.1" cy="444.6" rx="5.2" ry="7.2" fill="#d8c8ff" opacity="0.7"/>
<ellipse cx="202.1" cy="444.6" rx="3.4" ry="5.4" fill="#e8f4ff" stroke="#1010e8" stroke-width="1.9"/>
<ellipse cx="202.1" cy="444.6" rx="3.3" ry="4.1" fill="#40d0c0" opacity="0.8"/>
<ellipse cx="202.1" cy="444.6" rx="2.4" ry="3.2" fill="#f80000"/>
<ellipse cx="216.8" cy="444.6" rx="5.7" ry="7.8" fill="#d8c8ff" opacity="0.7"/>
<ellipse cx="216.8" cy="444.6" rx="3.9" ry="6.0" fill="#e8f4ff" stroke="#1010e8" stroke-width="1.9"/>
<ellipse cx="216.8" cy="444.6" rx="3.5" ry="4.4" fill="#40d0c0" opacity="0.8"/>
<ellipse cx="216.8" cy="444.6" rx="2.6" ry="3.5" fill="#f80000"/>
<rect x="236.0" y="340.8" width="80.3" height="68.5" fill="#2e2e2e"/>
<rect x="236.0" y="340.8" width="80.3" height="68.5" fill="#3a3a3a" opacity="0.3"/>
<rect x="236.0" y="340.8" width="80.3" height="10" fill="url(#topDark)"/>
<path d="M244.1,374.5 Q244.2,392.9 241.8,405.3" fill="none" stroke="#a4a4a4" stroke-width="1.5"/>
<path d="M238.7,372.5 l-2.4,4.5 M248.9,372.5 l2.4,4.5" stroke="#7c7c7c" stroke-width="1.6" fill="none"/>
<path d="M242.0,340.8 L245.6,340.8 C246.8,346.8 250.4,347.8 250.4,355.8 L250.4,371.5 C250.4,375.5 245.8,376.5 243.8,376.5 C241.8,376.5 237.2,375.5 237.2,371.5 L237.2,355.8 C237.2,347.8 240.8,346.8 242.0,340.8 Z" fill="url(#bodyG)"/>
<path d="M258.8,374.5 Q259.4,392.9 259.0,405.3" fill="none" stroke="#a4a4a4" stroke-width="1.5"/>
<path d="M253.4,372.5 l-2.4,4.5 M263.6,372.5 l2.4,4.5" stroke="#7c7c7c" stroke-width="1.6" fill="none"/>
<path d="M256.7,340.8 L260.3,340.8 C261.5,346.8 265.1,347.8 265.1,355.8 L265.1,371.5 C265.1,375.5 260.5,376.5 258.5,376.5 C256.5,376.5 251.9,375.5 251.9,371.5 L251.9,355.8 C251.9,347.8 255.5,346.8 256.7,340.8 Z" fill="url(#bodyG)"/>
<path d="M274.3,374.5 Q275.4,392.9 277.0,405.3" fill="none" stroke="#a4a4a4" stroke-width="1.5"/>
<path d="M268.9,372.5 l-2.4,4.5 M279.1,372.5 l2.4,4.5" stroke="#7c7c7c" stroke-width="1.6" fill="none"/>
<path d="M272.2,340.8 L275.8,340.8 C277.0,346.8 280.6,347.8 280.6,355.8 L280.6,371.5 C280.6,375.5 276.0,376.5 274.0,376.5 C272.0,376.5 267.4,375.5 267.4,371.5 L267.4,355.8 C267.4,347.8 271.0,346.8 272.2,340.8 Z" fill="url(#bodyG)"/>
<path d="M290.0,374.5 Q289.7,392.9 285.7,405.3" fill="none" stroke="#a4a4a4" stroke-width="1.5"/>
<path d="M284.6,372.5 l-2.4,4.5 M294.8,372.5 l2.4,4.5" stroke="#7c7c7c" stroke-width="1.6" fill="none"/>
<path d="M287.9,340.8 L291.5,340.8 C292.7,346.8 296.3,347.8 296.3,355.8 L296.3,371.5 C296.3,375.5 291.7,376.5 289.7,376.5 C287.7,376.5 283.1,375.5 283.1,371.5 L283.1,355.8 C283.1,347.8 286.7,346.8 287.9,340.8 Z" fill="url(#bodyG)"/>
<path d="M308.2,374.5 Q308.1,392.9 304.9,405.3" fill="none" stroke="#a4a4a4" stroke-width="1.5"/>
<path d="M302.8,372.5 l-2.4,4.5 M313.0,372.5 l2.4,4.5" stroke="#7c7c7c" stroke-width="1.6" fill="none"/>
<path d="M306.1,340.8 L309.7,340.8 C310.9,346.8 314.5,347.8 314.5,355.8 L314.5,371.5 C314.5,375.5 309.9,376.5 307.9,376.5 C305.9,376.5 301.3,375.5 301.3,371.5 L301.3,355.8 C301.3,347.8 304.9,346.8 306.1,340.8 Z" fill="url(#bodyG)"/>
<ellipse cx="237.8" cy="365.3" rx="5.8" ry="7.1" fill="#d8c8ff" opacity="0.7"/>
<ellipse cx="237.8" cy="365.3" rx="4.0" ry="5.3" fill="#e8f4ff" stroke="#1010e8" stroke-width="1.9"/>
<ellipse cx="237.8" cy="365.3" rx="3.5" ry="4.1" fill="#40d0c0" opacity="0.8"/>
<ellipse cx="237.8" cy="365.3" rx="2.6" ry="3.2" fill="#f80000"/>
<ellipse cx="256.0" cy="364.4" rx="6.7" ry="8.1" fill="#d8c8ff" opacity="0.7"/>
<ellipse cx="256.0" cy="364.4" rx="4.9" ry="6.3" fill="#e8f4ff" stroke="#1010e8" stroke-width="1.9"/>
<ellipse cx="256.0" cy="364.4" rx="4.9" ry="5.8" fill="#40d0c0" opacity="0.8"/>
<ellipse cx="256.0" cy="364.4" rx="4.0" ry="4.9" fill="#f80000"/>
<ellipse cx="270.7" cy="364.4" rx="6.2" ry="7.5" fill="#d8c8ff" opacity="0.7"/>
<ellipse cx="270.7" cy="364.4" rx="4.4" ry="5.7" fill="#e8f4ff" stroke="#1010e8" stroke-width="1.9"/>
<ellipse cx="270.7" cy="364.4" rx="3.9" ry="4.6" fill="#40d0c0" opacity="0.8"/>
<ellipse cx="270.7" cy="364.4" rx="3.0" ry="3.7" fill="#f80000"/>
<ellipse cx="286.2" cy="367.9" rx="4.7" ry="5.7" fill="#d8c8ff" opacity="0.7"/>
<ellipse cx="286.2" cy="367.9" rx="2.9" ry="3.9" fill="#e8f4ff" stroke="#1010e8" stroke-width="1.9"/>
<ellipse cx="286.2" cy="367.9" rx="3.1" ry="3.5" fill="#40d0c0" opacity="0.8"/>
<ellipse cx="286.2" cy="367.9" rx="2.2" ry="2.6" fill="#f80000"/>
<ellipse cx="310.4" cy="366.1" rx="6.4" ry="7.7" fill="#d8c8ff" opacity="0.7"/>
<ellipse cx="310.4" cy="366.1" rx="4.6" ry="5.9" fill="#e8f4ff" stroke="#1010e8" stroke-width="1.9"/>
<ellipse cx="310.4" cy="366.1" rx="4.2" ry="4.9" fill="#40d0c0" opacity="0.8"/>
<ellipse cx="310.4" cy="366.1" rx="3.3" ry="4.0" fill="#f80000"/>
<rect x="236.0" y="416.8" width="80.3" height="69.3" fill="#2e2e2e"/>
<rect x="236.0" y="416.8" width="80.3" height="69.3" fill="#3a3a3a" opacity="0.3"/>
<rect x="236.0" y="416.8" width="80.3" height="10" fill="url(#topDark)"/>
<path d="M246.7,451.5 Q246.8,469.8 244.4,482.1" fill="none" stroke="#a4a4a4" stroke-width="1.5"/>
<path d="M241.7,449.5 l-2.4,4.5 M251.1,449.5 l2.4,4.5" stroke="#7c7c7c" stroke-width="1.6" fill="none"/>
<path d="M244.6,416.8 L248.2,416.8 C249.4,422.8 252.6,423.8 252.6,431.8 L252.6,448.5 C252.6,452.5 248.4,453.5 246.4,453.5 C244.4,453.5 240.2,452.5 240.2,448.5 L240.2,431.8 C240.2,423.8 243.4,422.8 244.6,416.8 Z" fill="url(#bodyG)"/>
<path d="M261.4,451.5 Q262.0,469.8 261.6,482.1" fill="none" stroke="#a4a4a4" stroke-width="1.5"/>
<path d="M256.4,449.5 l-2.4,4.5 M265.8,449.5 l2.4,4.5" stroke="#7c7c7c" stroke-width="1.6" fill="none"/>
<path d="M259.3,416.8 L262.9,416.8 C264.1,422.8 267.3,423.8 267.3,431.8 L267.3,448.5 C267.3,452.5 263.1,453.5 261.1,453.5 C259.1,453.5 254.9,452.5 254.9,448.5 L254.9,431.8 C254.9,423.8 258.1,422.8 259.3,416.8 Z" fill="url(#bodyG)"/>
<path d="M277.0,451.5 Q278.1,469.8 279.7,482.1" fill="none" stroke="#a4a4a4" stroke-width="1.5"/>
<path d="M272.0,449.5 l-2.4,4.5 M281.4,449.5 l2.4,4.5" stroke="#7c7c7c" stroke-width="1.6" fill="none"/>
<path d="M274.9,416.8 L278.5,416.8 C279.7,422.8 282.9,423.8 282.9,431.8 L282.9,448.5 C282.9,452.5 278.7,453.5 276.7,453.5 C274.7,453.5 270.5,452.5 270.5,448.5 L270.5,431.8 C270.5,423.8 273.7,422.8 274.9,416.8 Z" fill="url(#bodyG)"/>
<path d="M292.6,451.5 Q292.3,469.8 288.3,482.1" fill="none" stroke="#a4a4a4" stroke-width="1.5"/>
<path d="M287.6,449.5 l-2.4,4.5 M297.0,449.5 l2.4,4.5" stroke="#7c7c7c" stroke-width="1.6" fill="none"/>
<path d="M290.5,416.8 L294.1,416.8 C295.3,422.8 298.5,423.8 298.5,431.8 L298.5,448.5 C298.5,452.5 294.3,453.5 292.3,453.5 C290.3,453.5 286.1,452.5 286.1,448.5 L286.1,431.8 C286.1,423.8 289.3,422.8 290.5,416.8 Z" fill="url(#bodyG)"/>
<path d="M309.0,451.5 Q308.9,469.8 305.7,482.1" fill="none" stroke="#a4a4a4" stroke-width="1.5"/>
<path d="M304.0,449.5 l-2.4,4.5 M313.4,449.5 l2.4,4.5" stroke="#7c7c7c" stroke-width="1.6" fill="none"/>
<path d="M306.9,416.8 L310.5,416.8 C311.7,422.8 314.9,423.8 314.9,431.8 L314.9,448.5 C314.9,452.5 310.7,453.5 308.7,453.5 C306.7,453.5 302.5,452.5 302.5,448.5 L302.5,431.8 C302.5,423.8 305.7,422.8 306.9,416.8 Z" fill="url(#bodyG)"/>
<ellipse cx="241.2" cy="442.0" rx="3.8" ry="5.1" fill="#d8c8ff" opacity="0.7"/>
<ellipse cx="241.2" cy="442.0" rx="2.0" ry="3.3" fill="#e8f4ff" stroke="#1010e8" stroke-width="1.9"/>
<ellipse cx="241.2" cy="442.0" rx="2.9" ry="3.6" fill="#40d0c0" opacity="0.8"/>
<ellipse cx="241.2" cy="442.0" rx="2.0" ry="2.7" fill="#f80000"/>
<ellipse cx="256.8" cy="444.6" rx="4.7" ry="6.4" fill="#d8c8ff" opacity="0.7"/>
<ellipse cx="256.8" cy="444.6" rx="2.9" ry="4.6" fill="#e8f4ff" stroke="#1010e8" stroke-width="1.9"/>
<ellipse cx="256.8" cy="444.6" rx="3.1" ry="3.8" fill="#40d0c0" opacity="0.8"/>
<ellipse cx="256.8" cy="444.6" rx="2.2" ry="2.9" fill="#f80000"/>
<ellipse cx="272.4" cy="442.9" rx="3.4" ry="4.5" fill="#d8c8ff" opacity="0.7"/>
<ellipse cx="272.4" cy="442.9" rx="1.6" ry="2.7" fill="#e8f4ff" stroke="#1010e8" stroke-width="1.9"/>
<ellipse cx="272.4" cy="442.9" rx="1.2" ry="1.6" fill="#ffffff"/>
<ellipse cx="287.1" cy="442.9" rx="3.6" ry="4.8" fill="#d8c8ff" opacity="0.7"/>
<ellipse cx="287.1" cy="442.9" rx="1.8" ry="3.0" fill="#e8f4ff" stroke="#1010e8" stroke-width="1.9"/>
<ellipse cx="287.1" cy="442.9" rx="1.3" ry="1.8" fill="#ffffff"/>
<ellipse cx="310.4" cy="442.0" rx="4.7" ry="6.4" fill="#d8c8ff" opacity="0.7"/>
<ellipse cx="310.4" cy="442.0" rx="2.9" ry="4.6" fill="#e8f4ff" stroke="#1010e8" stroke-width="1.9"/>
<ellipse cx="310.4" cy="442.0" rx="1.7" ry="2.4" fill="#ffffff"/>
<rect x="323.7" y="340.8" width="74.3" height="68.5" fill="#2e2e2e"/>
<rect x="323.7" y="340.8" width="74.3" height="68.5" fill="#3a3a3a" opacity="0.3"/>
<rect x="323.7" y="340.8" width="74.3" height="10" fill="url(#topDark)"/>
<path d="M333.0,374.5 Q334.0,392.9 335.2,405.3" fill="none" stroke="#a4a4a4" stroke-width="1.5"/>
<path d="M327.6,372.5 l-2.4,4.5 M337.8,372.5 l2.4,4.5" stroke="#7c7c7c" stroke-width="1.6" fill="none"/>
<path d="M330.9,340.8 L334.5,340.8 C335.7,346.8 339.3,347.8 339.3,355.8 L339.3,371.5 C339.3,375.5 334.7,376.5 332.7,376.5 C330.7,376.5 326.1,375.5 326.1,371.5 L326.1,355.8 C326.1,347.8 329.7,346.8 330.9,340.8 Z" fill="url(#bodyG)"/>
<path d="M346.8,374.5 Q346.9,392.9 344.5,405.3" fill="none" stroke="#a4a4a4" stroke-width="1.5"/>
<path d="M341.4,372.5 l-2.4,4.5 M351.6,372.5 l2.4,4.5" stroke="#7c7c7c" stroke-width="1.6" fill="none"/>
<path d="M344.7,340.8 L348.3,340.8 C349.5,346.8 353.1,347.8 353.1,355.8 L353.1,371.5 C353.1,375.5 348.5,376.5 346.5,376.5 C344.5,376.5 339.9,375.5 339.9,371.5 L339.9,355.8 C339.9,347.8 343.5,346.8 344.7,340.8 Z" fill="url(#bodyG)"/>
<path d="M362.3,374.5 Q362.9,392.9 362.5,405.3" fill="none" stroke="#a4a4a4" stroke-width="1.5"/>
<path d="M356.9,372.5 l-2.4,4.5 M367.1,372.5 l2.4,4.5" stroke="#7c7c7c" stroke-width="1.6" fill="none"/>
<path d="M360.2,340.8 L363.8,340.8 C365.0,346.8 368.6,347.8 368.6,355.8 L368.6,371.5 C368.6,375.5 364.0,376.5 362.0,376.5 C360.0,376.5 355.4,375.5 355.4,371.5 L355.4,355.8 C355.4,347.8 359.0,346.8 360.2,340.8 Z" fill="url(#bodyG)"/>
<path d="M376.3,374.5 Q377.4,392.9 379.0,405.3" fill="none" stroke="#a4a4a4" stroke-width="1.5"/>
<path d="M370.9,372.5 l-2.4,4.5 M381.1,372.5 l2.4,4.5" stroke="#7c7c7c" stroke-width="1.6" fill="none"/>
<path d="M374.2,340.8 L377.8,340.8 C379.0,346.8 382.6,347.8 382.6,355.8 L382.6,371.5 C382.6,375.5 378.0,376.5 376.0,376.5 C374.0,376.5 369.4,375.5 369.4,371.5 L369.4,355.8 C369.4,347.8 373.0,346.8 374.2,340.8 Z" fill="url(#bodyG)"/>
<path d="M389.3,374.5 Q389.0,392.9 385.0,405.3" fill="none" stroke="#a4a4a4" stroke-width="1.5"/>
<path d="M383.9,372.5 l-2.4,4.5 M394.1,372.5 l2.4,4.5" stroke="#7c7c7c" stroke-width="1.6" fill="none"/>
<path d="M387.2,340.8 L390.8,340.8 C392.0,346.8 395.6,347.8 395.6,355.8 L395.6,371.5 C395.6,375.5 391.0,376.5 389.0,376.5 C387.0,376.5 382.4,375.5 382.4,371.5 L382.4,355.8 C382.4,347.8 386.0,346.8 387.2,340.8 Z" fill="url(#bodyG)"/>
<ellipse cx="330.1" cy="364.4" rx="6.8" ry="8.3" fill="#d8c8ff" opacity="0.7"/>
<ellipse cx="330.1" cy="364.4" rx="5.0" ry="6.5" fill="#e8f4ff" stroke="#1010e8" stroke-width="1.9"/>
<ellipse cx="330.1" cy="364.4" rx="3.9" ry="4.6" fill="#40d0c0" opacity="0.8"/>
<ellipse cx="330.1" cy="364.4" rx="3.0" ry="3.7" fill="#f80000"/>
<ellipse cx="343.6" cy="366.1" rx="6.1" ry="7.4" fill="#d8c8ff" opacity="0.7"/>
<ellipse cx="343.6" cy="366.1" rx="4.3" ry="5.6" fill="#e8f4ff" stroke="#1010e8" stroke-width="1.9"/>
<ellipse cx="343.6" cy="366.1" rx="3.9" ry="4.6" fill="#40d0c0" opacity="0.8"/>
<ellipse cx="343.6" cy="366.1" rx="3.0" ry="3.7" fill="#f80000"/>
<ellipse cx="362.1" cy="365.8" rx="7.6" ry="9.3" fill="#d8c8ff" opacity="0.7"/>
<ellipse cx="362.1" cy="365.8" rx="5.8" ry="7.5" fill="#e8f4ff" stroke="#1010e8" stroke-width="1.9"/>
<ellipse cx="362.1" cy="365.8" rx="3.9" ry="4.6" fill="#40d0c0" opacity="0.8"/>
<ellipse cx="362.1" cy="365.8" rx="3.0" ry="3.7" fill="#f80000"/>
<ellipse cx="375.1" cy="365.8" rx="7.1" ry="8.7" fill="#d8c8ff" opacity="0.7"/>
<ellipse cx="375.1" cy="365.8" rx="5.3" ry="6.9" fill="#e8f4ff" stroke="#1010e8" stroke-width="1.9"/>
<ellipse cx="375.1" cy="365.8" rx="4.5" ry="5.3" fill="#40d0c0" opacity="0.8"/>
<ellipse cx="375.1" cy="365.8" rx="3.6" ry="4.4" fill="#f80000"/>
<ellipse cx="390.7" cy="370.5" rx="5.9" ry="7.2" fill="#d8c8ff" opacity="0.7"/>
<ellipse cx="390.7" cy="370.5" rx="4.1" ry="5.4" fill="#e8f4ff" stroke="#1010e8" stroke-width="1.9"/>
<ellipse cx="390.7" cy="370.5" rx="4.4" ry="5.2" fill="#40d0c0" opacity="0.8"/>
<ellipse cx="390.7" cy="370.5" rx="3.5" ry="4.3" fill="#f80000"/>
<rect x="323.7" y="416.8" width="74.3" height="69.3" fill="#2e2e2e"/>
<rect x="323.7" y="416.8" width="74.3" height="69.3" fill="#3a3a3a" opacity="0.3"/>
<rect x="323.7" y="416.8" width="74.3" height="10" fill="url(#topDark)"/>
<path d="M333.9,451.5 Q334.9,469.8 336.1,482.1" fill="none" stroke="#a4a4a4" stroke-width="1.5"/>
<path d="M328.9,449.5 l-2.4,4.5 M338.3,449.5 l2.4,4.5" stroke="#7c7c7c" stroke-width="1.6" fill="none"/>
<path d="M331.8,416.8 L335.4,416.8 C336.6,422.8 339.8,423.8 339.8,431.8 L339.8,448.5 C339.8,452.5 335.6,453.5 333.6,453.5 C331.6,453.5 327.4,452.5 327.4,448.5 L327.4,431.8 C327.4,423.8 330.6,422.8 331.8,416.8 Z" fill="url(#bodyG)"/>
<path d="M348.6,451.5 Q348.7,469.8 346.3,482.1" fill="none" stroke="#a4a4a4" stroke-width="1.5"/>
<path d="M343.6,449.5 l-2.4,4.5 M353.0,449.5 l2.4,4.5" stroke="#7c7c7c" stroke-width="1.6" fill="none"/>
<path d="M346.5,416.8 L350.1,416.8 C351.3,422.8 354.5,423.8 354.5,431.8 L354.5,448.5 C354.5,452.5 350.3,453.5 348.3,453.5 C346.3,453.5 342.1,452.5 342.1,448.5 L342.1,431.8 C342.1,423.8 345.3,422.8 346.5,416.8 Z" fill="url(#bodyG)"/>
<path d="M362.4,451.5 Q363.0,469.8 362.6,482.1" fill="none" stroke="#a4a4a4" stroke-width="1.5"/>
<path d="M357.4,449.5 l-2.4,4.5 M366.8,449.5 l2.4,4.5" stroke="#7c7c7c" stroke-width="1.6" fill="none"/>
<path d="M360.3,416.8 L363.9,416.8 C365.1,422.8 368.3,423.8 368.3,431.8 L368.3,448.5 C368.3,452.5 364.1,453.5 362.1,453.5 C360.1,453.5 355.9,452.5 355.9,448.5 L355.9,431.8 C355.9,423.8 359.1,422.8 360.3,416.8 Z" fill="url(#bodyG)"/>
<path d="M377.1,451.5 Q378.2,469.8 379.8,482.1" fill="none" stroke="#a4a4a4" stroke-width="1.5"/>
<path d="M372.1,449.5 l-2.4,4.5 M381.5,449.5 l2.4,4.5" stroke="#7c7c7c" stroke-width="1.6" fill="none"/>
<path d="M375.0,416.8 L378.6,416.8 C379.8,422.8 383.0,423.8 383.0,431.8 L383.0,448.5 C383.0,452.5 378.8,453.5 376.8,453.5 C374.8,453.5 370.6,452.5 370.6,448.5 L370.6,431.8 C370.6,423.8 373.8,422.8 375.0,416.8 Z" fill="url(#bodyG)"/>
<path d="M391.0,451.5 Q390.7,469.8 386.7,482.1" fill="none" stroke="#a4a4a4" stroke-width="1.5"/>
<path d="M386.0,449.5 l-2.4,4.5 M395.4,449.5 l2.4,4.5" stroke="#7c7c7c" stroke-width="1.6" fill="none"/>
<path d="M388.9,416.8 L392.5,416.8 C393.7,422.8 396.9,423.8 396.9,431.8 L396.9,448.5 C396.9,452.5 392.7,453.5 390.7,453.5 C388.7,453.5 384.5,452.5 384.5,448.5 L384.5,431.8 C384.5,423.8 387.7,422.8 388.9,416.8 Z" fill="url(#bodyG)"/>
<ellipse cx="331.0" cy="442.0" rx="3.3" ry="4.4" fill="#d8c8ff" opacity="0.7"/>
<ellipse cx="331.0" cy="442.0" rx="1.5" ry="2.6" fill="#e8f4ff" stroke="#1010e8" stroke-width="1.9"/>
<ellipse cx="331.0" cy="442.0" rx="1.3" ry="1.8" fill="#c8a8ff"/>
<ellipse cx="344.0" cy="442.9" rx="4.4" ry="6.0" fill="#d8c8ff" opacity="0.7"/>
<ellipse cx="344.0" cy="442.9" rx="2.6" ry="4.2" fill="#e8f4ff" stroke="#1010e8" stroke-width="1.9"/>
<ellipse cx="344.0" cy="442.9" rx="2.6" ry="3.3" fill="#40d0c0" opacity="0.8"/>
<ellipse cx="344.0" cy="442.9" rx="1.7" ry="2.4" fill="#f80000"/>
<ellipse cx="361.3" cy="443.7" rx="6.5" ry="9.0" fill="#d8c8ff" opacity="0.7"/>
<ellipse cx="361.3" cy="443.7" rx="4.7" ry="7.2" fill="#e8f4ff" stroke="#1010e8" stroke-width="1.9"/>
<ellipse cx="361.3" cy="443.7" rx="4.0" ry="5.1" fill="#10c8c8"/>
<ellipse cx="361.3" cy="443.7" rx="3.0" ry="4.1" fill="#b8e000"/>
<ellipse cx="374.2" cy="443.7" rx="2.4" ry="3.1" fill="#d8c8ff" opacity="0.7"/>
<ellipse cx="374.2" cy="443.7" rx="1.6" ry="2.0" fill="#1010c0"/>
<ellipse cx="390.7" cy="447.2" rx="3.5" ry="4.6" fill="#d8c8ff" opacity="0.7"/>
<ellipse cx="390.7" cy="447.2" rx="1.7" ry="2.8" fill="#e8f4ff" stroke="#1010e8" stroke-width="1.9"/>
<ellipse cx="390.7" cy="447.2" rx="1.3" ry="1.8" fill="#c8a8ff"/>
<rect x="405.0" y="340.8" width="78.6" height="68.5" fill="#2e2e2e"/>
<rect x="405.0" y="340.8" width="78.6" height="68.5" fill="#3a3a3a" opacity="0.3"/>
<rect x="405.0" y="340.8" width="78.6" height="10" fill="url(#topDark)"/>
<path d="M411.8,374.5 Q412.4,392.9 412.0,405.3" fill="none" stroke="#a4a4a4" stroke-width="1.5"/>
<path d="M406.4,372.5 l-2.4,4.5 M416.6,372.5 l2.4,4.5" stroke="#7c7c7c" stroke-width="1.6" fill="none"/>
<path d="M409.7,340.8 L413.3,340.8 C414.5,346.8 418.1,347.8 418.1,355.8 L418.1,371.5 C418.1,375.5 413.5,376.5 411.5,376.5 C409.5,376.5 404.9,375.5 404.9,371.5 L404.9,355.8 C404.9,347.8 408.5,346.8 409.7,340.8 Z" fill="url(#bodyG)"/>
<path d="M427.5,374.5 Q428.6,392.9 430.2,405.3" fill="none" stroke="#a4a4a4" stroke-width="1.5"/>
<path d="M422.1,372.5 l-2.4,4.5 M432.3,372.5 l2.4,4.5" stroke="#7c7c7c" stroke-width="1.6" fill="none"/>
<path d="M425.4,340.8 L429.0,340.8 C430.2,346.8 433.8,347.8 433.8,355.8 L433.8,371.5 C433.8,375.5 429.2,376.5 427.2,376.5 C425.2,376.5 420.6,375.5 420.6,371.5 L420.6,355.8 C420.6,347.8 424.2,346.8 425.4,340.8 Z" fill="url(#bodyG)"/>
<path d="M443.0,374.5 Q442.7,392.9 438.7,405.3" fill="none" stroke="#a4a4a4" stroke-width="1.5"/>
<path d="M437.6,372.5 l-2.4,4.5 M447.8,372.5 l2.4,4.5" stroke="#7c7c7c" stroke-width="1.6" fill="none"/>
<path d="M440.9,340.8 L444.5,340.8 C445.7,346.8 449.3,347.8 449.3,355.8 L449.3,371.5 C449.3,375.5 444.7,376.5 442.7,376.5 C440.7,376.5 436.1,375.5 436.1,371.5 L436.1,355.8 C436.1,347.8 439.7,346.8 440.9,340.8 Z" fill="url(#bodyG)"/>
<path d="M458.3,374.5 Q458.2,392.9 455.0,405.3" fill="none" stroke="#a4a4a4" stroke-width="1.5"/>
<path d="M452.9,372.5 l-2.4,4.5 M463.1,372.5 l2.4,4.5" stroke="#7c7c7c" stroke-width="1.6" fill="none"/>
<path d="M456.2,340.8 L459.8,340.8 C461.0,346.8 464.6,347.8 464.6,355.8 L464.6,371.5 C464.6,375.5 460.0,376.5 458.0,376.5 C456.0,376.5 451.4,375.5 451.4,371.5 L451.4,355.8 C451.4,347.8 455.0,346.8 456.2,340.8 Z" fill="url(#bodyG)"/>
<path d="M473.7,374.5 Q474.5,392.9 474.9,405.3" fill="none" stroke="#a4a4a4" stroke-width="1.5"/>
<path d="M468.3,372.5 l-2.4,4.5 M478.5,372.5 l2.4,4.5" stroke="#7c7c7c" stroke-width="1.6" fill="none"/>
<path d="M471.6,340.8 L475.2,340.8 C476.4,346.8 480.0,347.8 480.0,355.8 L480.0,371.5 C480.0,375.5 475.4,376.5 473.4,376.5 C471.4,376.5 466.8,375.5 466.8,371.5 L466.8,355.8 C466.8,347.8 470.4,346.8 471.6,340.8 Z" fill="url(#bodyG)"/>
<ellipse cx="408.1" cy="367.3" rx="5.0" ry="6.0" fill="#d8c8ff" opacity="0.7"/>
<ellipse cx="408.1" cy="367.3" rx="3.2" ry="4.2" fill="#e8f4ff" stroke="#1010e8" stroke-width="1.9"/>
<ellipse cx="408.1" cy="367.3" rx="2.9" ry="3.4" fill="#40d0c0" opacity="0.8"/>
<ellipse cx="408.1" cy="367.3" rx="2.0" ry="2.5" fill="#f80000"/>
<ellipse cx="424.2" cy="366.8" rx="5.5" ry="6.6" fill="#d8c8ff" opacity="0.7"/>
<ellipse cx="424.2" cy="366.8" rx="3.7" ry="4.8" fill="#e8f4ff" stroke="#1010e8" stroke-width="1.9"/>
<ellipse cx="424.2" cy="366.8" rx="3.6" ry="4.2" fill="#40d0c0" opacity="0.8"/>
<ellipse cx="424.2" cy="366.8" rx="2.7" ry="3.3" fill="#f80000"/>
<ellipse cx="439.7" cy="365.0" rx="4.9" ry="5.9" fill="#d8c8ff" opacity="0.7"/>
<ellipse cx="439.7" cy="365.0" rx="3.1" ry="4.1" fill="#e8f4ff" stroke="#1010e8" stroke-width="1.9"/>
<ellipse cx="439.7" cy="365.0" rx="2.9" ry="3.4" fill="#40d0c0" opacity="0.8"/>
<ellipse cx="439.7" cy="365.0" rx="2.0" ry="2.5" fill="#f80000"/>
<ellipse cx="457.2" cy="369.6" rx="7.4" ry="9.0" fill="#d8c8ff" opacity="0.7"/>
<ellipse cx="457.2" cy="369.6" rx="5.6" ry="7.2" fill="#e8f4ff" stroke="#1010e8" stroke-width="1.9"/>
<ellipse cx="457.2" cy="369.6" rx="4.4" ry="5.1" fill="#40d0c0" opacity="0.8"/>
<ellipse cx="457.2" cy="369.6" rx="3.5" ry="4.2" fill="#f80000"/>
<ellipse cx="470.4" cy="366.2" rx="4.9" ry="5.9" fill="#d8c8ff" opacity="0.7"/>
<ellipse cx="470.4" cy="366.2" rx="3.1" ry="4.1" fill="#e8f4ff" stroke="#1010e8" stroke-width="1.9"/>
<ellipse cx="470.4" cy="366.2" rx="1.6" ry="1.9" fill="#c8a8ff"/>
<rect x="405.0" y="416.8" width="78.6" height="69.3" fill="#2e2e2e"/>
<rect x="405.0" y="416.8" width="78.6" height="69.3" fill="#3a3a3a" opacity="0.3"/>
<rect x="405.0" y="416.8" width="78.6" height="10" fill="url(#topDark)"/>
<path d="M416.7,451.5 Q417.3,469.8 416.9,482.1" fill="none" stroke="#a4a4a4" stroke-width="1.5"/>
<path d="M411.7,449.5 l-2.4,4.5 M421.1,449.5 l2.4,4.5" stroke="#7c7c7c" stroke-width="1.6" fill="none"/>
<path d="M414.6,416.8 L418.2,416.8 C419.4,422.8 422.6,423.8 422.6,431.8 L422.6,448.5 C422.6,452.5 418.4,453.5 416.4,453.5 C414.4,453.5 410.2,452.5 410.2,448.5 L410.2,431.8 C410.2,423.8 413.4,422.8 414.6,416.8 Z" fill="url(#bodyG)"/>
<path d="M431.4,451.5 Q432.5,469.8 434.1,482.1" fill="none" stroke="#a4a4a4" stroke-width="1.5"/>
<path d="M426.4,449.5 l-2.4,4.5 M435.8,449.5 l2.4,4.5" stroke="#7c7c7c" stroke-width="1.6" fill="none"/>
<path d="M429.3,416.8 L432.9,416.8 C434.1,422.8 437.3,423.8 437.3,431.8 L437.3,448.5 C437.3,452.5 433.1,453.5 431.1,453.5 C429.1,453.5 424.9,452.5 424.9,448.5 L424.9,431.8 C424.9,423.8 428.1,422.8 429.3,416.8 Z" fill="url(#bodyG)"/>
<path d="M446.2,451.5 Q445.9,469.8 441.9,482.1" fill="none" stroke="#a4a4a4" stroke-width="1.5"/>
<path d="M441.2,449.5 l-2.4,4.5 M450.6,449.5 l2.4,4.5" stroke="#7c7c7c" stroke-width="1.6" fill="none"/>
<path d="M444.1,416.8 L447.7,416.8 C448.9,422.8 452.1,423.8 452.1,431.8 L452.1,448.5 C452.1,452.5 447.9,453.5 445.9,453.5 C443.9,453.5 439.7,452.5 439.7,448.5 L439.7,431.8 C439.7,423.8 442.9,422.8 444.1,416.8 Z" fill="url(#bodyG)"/>
<path d="M460.9,451.5 Q460.8,469.8 457.6,482.1" fill="none" stroke="#a4a4a4" stroke-width="1.5"/>
<path d="M455.9,449.5 l-2.4,4.5 M465.3,449.5 l2.4,4.5" stroke="#7c7c7c" stroke-width="1.6" fill="none"/>
<path d="M458.8,416.8 L462.4,416.8 C463.6,422.8 466.8,423.8 466.8,431.8 L466.8,448.5 C466.8,452.5 462.6,453.5 460.6,453.5 C458.6,453.5 454.4,452.5 454.4,448.5 L454.4,431.8 C454.4,423.8 457.6,422.8 458.8,416.8 Z" fill="url(#bodyG)"/>
<path d="M476.5,451.5 Q477.3,469.8 477.7,482.1" fill="none" stroke="#a4a4a4" stroke-width="1.5"/>
<path d="M471.5,449.5 l-2.4,4.5 M480.9,449.5 l2.4,4.5" stroke="#7c7c7c" stroke-width="1.6" fill="none"/>
<path d="M474.4,416.8 L478.0,416.8 C479.2,422.8 482.4,423.8 482.4,431.8 L482.4,448.5 C482.4,452.5 478.2,453.5 476.2,453.5 C474.2,453.5 470.0,452.5 470.0,448.5 L470.0,431.8 C470.0,423.8 473.2,422.8 474.4,416.8 Z" fill="url(#bodyG)"/>
<ellipse cx="413.8" cy="443.2" rx="3.8" ry="5.1" fill="#d8c8ff" opacity="0.7"/>
<ellipse cx="413.8" cy="443.2" rx="2.0" ry="3.3" fill="#e8f4ff" stroke="#1010e8" stroke-width="1.9"/>
<ellipse cx="413.8" cy="443.2" rx="1.3" ry="1.8" fill="#ffffff"/>
<ellipse cx="427.7" cy="442.9" rx="4.4" ry="6.0" fill="#d8c8ff" opacity="0.7"/>
<ellipse cx="427.7" cy="442.9" rx="2.6" ry="4.2" fill="#e8f4ff" stroke="#1010e8" stroke-width="1.9"/>
<ellipse cx="427.7" cy="442.9" rx="2.3" ry="2.9" fill="#40d0c0" opacity="0.8"/>
<ellipse cx="427.7" cy="442.9" rx="1.4" ry="2.0" fill="#f80000"/>
<ellipse cx="445.3" cy="443.7" rx="4.9" ry="6.6" fill="#d8c8ff" opacity="0.7"/>
<ellipse cx="445.3" cy="443.7" rx="3.1" ry="4.8" fill="#e8f4ff" stroke="#1010e8" stroke-width="1.9"/>
<ellipse cx="445.3" cy="443.7" rx="3.1" ry="3.8" fill="#40d0c0" opacity="0.8"/>
<ellipse cx="445.3" cy="443.7" rx="2.2" ry="2.9" fill="#f80000"/>
<ellipse cx="462.0" cy="442.0" rx="5.2" ry="7.2" fill="#d8c8ff" opacity="0.7"/>
<ellipse cx="462.0" cy="442.0" rx="3.4" ry="5.4" fill="#e8f4ff" stroke="#1010e8" stroke-width="1.9"/>
<ellipse cx="462.0" cy="442.0" rx="3.3" ry="4.1" fill="#40d0c0" opacity="0.8"/>
<ellipse cx="462.0" cy="442.0" rx="2.4" ry="3.2" fill="#f80000"/>
<ellipse cx="474.8" cy="444.6" rx="3.7" ry="5.0" fill="#d8c8ff" opacity="0.7"/>
<ellipse cx="474.8" cy="444.6" rx="1.9" ry="3.2" fill="#e8f4ff" stroke="#1010e8" stroke-width="1.9"/>
<ellipse cx="474.8" cy="444.6" rx="1.3" ry="1.8" fill="#ffffff"/>
<ellipse cx="247.2" cy="360.5" rx="1.6" ry="4.2" transform="rotate(28 247.2 360.5)" fill="#1818e0"/>
<ellipse cx="179.6" cy="359.2" rx="1.2" ry="2.2" fill="#3030e0" opacity="0.85"/>
<text x="80.5" y="346.0" font-size="9" fill="#151515" style="stroke:#151515;stroke-width:0.3px" textLength="22" lengthAdjust="spacingAndGlyphs">DB2</text>
<rect x="491" y="338.5" width="19.7" height="13.7" fill="#fff" stroke="#777" stroke-width="0.6"/>
<rect x="491" y="475.6" width="19.7" height="13.7" fill="#fff" stroke="#777" stroke-width="0.6"/>
<text x="492.3" y="342.8" font-size="3.6" fill="#444" style="stroke:none" textLength="7" lengthAdjust="spacingAndGlyphs">Image</text>
<text x="492.3" y="347.0" font-size="3.6" fill="#444" style="stroke:none" textLength="10" lengthAdjust="spacingAndGlyphs">Min = 34</text>
<text x="492.3" y="351.2" font-size="3.6" fill="#444" style="stroke:none" textLength="16" lengthAdjust="spacingAndGlyphs">Max = 77233</text>
<text x="492.3" y="479.9" font-size="3.6" fill="#444" style="stroke:none" textLength="11" lengthAdjust="spacingAndGlyphs">Color Bar</text>
<text x="492.3" y="484.1" font-size="3.6" fill="#444" style="stroke:none" textLength="13" lengthAdjust="spacingAndGlyphs">Min = 2000</text>
<text x="492.3" y="488.3" font-size="3.6" fill="#444" style="stroke:none" textLength="16" lengthAdjust="spacingAndGlyphs">Max = 42000</text>
<rect x="491" y="356.5" width="4.0" height="114.2" fill="url(#cbar)"/>
<text x="499.5" y="362.6" font-size="4.2" fill="#555" style="stroke:none">4000</text>
<text x="499.5" y="390.6" font-size="4.2" fill="#555" style="stroke:none">3000</text>
<text x="499.5" y="419.1" font-size="4.2" fill="#555" style="stroke:none">2000</text>
<text x="499.5" y="447.3" font-size="4.2" fill="#555" style="stroke:none">1000</text>
<text x="496.5" y="471.8" font-size="3.6" fill="#555" style="stroke:none">Counts</text>
<text x="9.6" y="523.5" font-size="14.6" font-weight="bold" textLength="10.0" lengthAdjust="spacingAndGlyphs" fill="#000">D</text>
<text transform="translate(30.0,618.4) rotate(-90)" x="0" y="0" font-size="13.5" text-anchor="middle" textLength="129.0" lengthAdjust="spacingAndGlyphs" fill="#000">Tumor Volume (mm3)</text>
<text x="78.3" y="746.2" font-size="13.5" textLength="164.6" lengthAdjust="spacingAndGlyphs" fill="#000">Days post first T cell infusion</text>
<path d="M72.2,541.5 L72.2,712.8 L229.8,712.8" fill="none" stroke="#555" stroke-width="1.1"/>
<line x1="68.0" y1="712.8" x2="72.2" y2="712.8" stroke="#555" stroke-width="1"/>
<text x="61.0" y="716.3" font-size="11.2" font-weight="bold" text-anchor="end" textLength="6.4" lengthAdjust="spacingAndGlyphs" fill="#000">0</text>
<line x1="68.0" y1="678.5" x2="72.2" y2="678.5" stroke="#555" stroke-width="1"/>
<text x="61.0" y="682.0" font-size="11.2" font-weight="bold" text-anchor="end" textLength="20.2" lengthAdjust="spacingAndGlyphs" fill="#000">200</text>
<line x1="68.0" y1="644.3" x2="72.2" y2="644.3" stroke="#555" stroke-width="1"/>
<text x="61.0" y="647.8" font-size="11.2" font-weight="bold" text-anchor="end" textLength="20.2" lengthAdjust="spacingAndGlyphs" fill="#000">400</text>
<line x1="68.0" y1="610.0" x2="72.2" y2="610.0" stroke="#555" stroke-width="1"/>
<text x="61.0" y="613.5" font-size="11.2" font-weight="bold" text-anchor="end" textLength="20.2" lengthAdjust="spacingAndGlyphs" fill="#000">600</text>
<line x1="68.0" y1="575.8" x2="72.2" y2="575.8" stroke="#555" stroke-width="1"/>
<text x="61.0" y="579.3" font-size="11.2" font-weight="bold" text-anchor="end" textLength="20.2" lengthAdjust="spacingAndGlyphs" fill="#000">800</text>
<line x1="68.0" y1="541.5" x2="72.2" y2="541.5" stroke="#555" stroke-width="1"/>
<text x="61.0" y="545.0" font-size="11.2" font-weight="bold" text-anchor="end" textLength="26.4" lengthAdjust="spacingAndGlyphs" fill="#000">1000</text>
<line x1="72.1" y1="712.8" x2="72.1" y2="710.3" stroke="#555" stroke-width="1"/>
<text x="72.1" y="727.2" font-size="7.5" font-weight="bold" text-anchor="middle" fill="#000">0</text>
<line x1="111.5" y1="712.8" x2="111.5" y2="710.3" stroke="#555" stroke-width="1"/>
<text x="111.5" y="727.2" font-size="7.5" font-weight="bold" text-anchor="middle" fill="#000">20</text>
<line x1="151.0" y1="712.8" x2="151.0" y2="710.3" stroke="#555" stroke-width="1"/>
<text x="151.0" y="727.2" font-size="7.5" font-weight="bold" text-anchor="middle" fill="#000">40</text>
<line x1="190.4" y1="712.8" x2="190.4" y2="710.3" stroke="#555" stroke-width="1"/>
<text x="190.4" y="727.2" font-size="7.5" font-weight="bold" text-anchor="middle" fill="#000">60</text>
<line x1="229.9" y1="712.8" x2="229.9" y2="710.3" stroke="#555" stroke-width="1"/>
<text x="229.9" y="727.2" font-size="7.5" font-weight="bold" text-anchor="middle" fill="#000">80</text>
<line x1="145.7" y1="621.3" x2="145.7" y2="639" stroke="#000" stroke-width="1.5"/>
<path d="M141.7,637.4 L149.7,637.4 L145.7,644.3 Z" fill="#000"/>
<line x1="157.9" y1="621.3" x2="157.9" y2="639" stroke="#000" stroke-width="1.5"/>
<path d="M153.9,637.4 L161.9,637.4 L157.9,644.3 Z" fill="#000"/>
<path d="M72.1,712.8 L82.0,712.8 L91.8,712.8 L101.7,712.8 L111.5,712.8 L121.4,702.9 L131.3,699.1 L137.2,692.6 L143.1,684.5 L149.0,676.5 L154.9,668.6 L160.9,684.5 L166.8,690.9 L172.7,693.6 L180.2,697.4 L186.1,700.8 L192.0,701.5 L197.0,705.1" fill="none" stroke="#888" stroke-width="0.8"/>
<path d="M72.1,712.8 L82.0,712.8 L91.8,712.8 L101.7,712.8 L111.5,712.8 L121.4,703.4 L131.3,697.7 L137.2,689.7 L143.1,681.1 L149.0,672.5 L154.9,663.1 L160.9,683.3 L166.8,689.2 L172.7,695.7 L180.2,698.2 L186.1,697.7 L192.0,700.0 L197.0,704.2" fill="none" stroke="#888" stroke-width="0.8"/>
<path d="M72.1,712.8 L82.0,712.8 L91.8,712.8 L101.7,712.8 L111.5,712.8 L121.4,702.2 L131.3,696.5 L137.2,687.1 L143.1,678.5 L149.0,670.8 L154.9,661.4 L160.9,681.1 L166.8,687.1 L172.7,690.4 L180.2,693.8 L186.1,694.8 L192.0,696.5 L197.0,702.2" fill="none" stroke="#888" stroke-width="0.8"/>
<path d="M72.1,712.8 L82.0,712.8 L91.8,712.8 L101.7,712.8 L111.5,712.8 L121.4,704.2 L130.3,702.2 L137.2,692.6 L143.1,684.5 L149.0,670.0 L154.9,660.6 L161.5,651.6 L167.8,643.9 L173.5,629.4 L182.0,611.2 L187.5,601.6 L193.6,594.3 L197.7,587.8" fill="none" stroke="#666" stroke-width="0.8"/>
<path d="M72.1,712.8 L82.0,712.8 L91.8,712.8 L101.7,712.8 L111.5,712.8 L121.4,704.6 L131.3,699.4 L137.2,696.0 L143.1,687.1 L149.0,676.0 L154.9,667.4 L160.9,661.4 L166.6,669.8 L172.7,656.8 L180.2,648.7 L186.1,643.4 L192.0,637.9 L197.0,631.3" fill="none" stroke="#666" stroke-width="0.8"/>
<line x1="143.1" y1="688.0" x2="143.1" y2="681.1" stroke="#000" stroke-width="1.6"/>
<line x1="141.3" y1="681.1" x2="144.9" y2="681.1" stroke="#000" stroke-width="1.2"/>
<line x1="141.3" y1="688.0" x2="144.9" y2="688.0" stroke="#000" stroke-width="1.2"/>
<line x1="149.0" y1="673.4" x2="149.0" y2="666.5" stroke="#000" stroke-width="1.6"/>
<line x1="147.2" y1="666.5" x2="150.8" y2="666.5" stroke="#000" stroke-width="1.2"/>
<line x1="147.2" y1="673.4" x2="150.8" y2="673.4" stroke="#000" stroke-width="1.2"/>
<line x1="154.9" y1="664.8" x2="154.9" y2="656.3" stroke="#000" stroke-width="1.6"/>
<line x1="153.1" y1="656.3" x2="156.7" y2="656.3" stroke="#000" stroke-width="1.2"/>
<line x1="153.1" y1="664.8" x2="156.7" y2="664.8" stroke="#000" stroke-width="1.2"/>
<line x1="161.5" y1="656.8" x2="161.5" y2="646.5" stroke="#000" stroke-width="1.6"/>
<line x1="159.7" y1="646.5" x2="163.3" y2="646.5" stroke="#000" stroke-width="1.2"/>
<line x1="159.7" y1="656.8" x2="163.3" y2="656.8" stroke="#000" stroke-width="1.2"/>
<line x1="167.8" y1="652.8" x2="167.8" y2="635.0" stroke="#000" stroke-width="1.6"/>
<line x1="166.0" y1="635.0" x2="169.6" y2="635.0" stroke="#000" stroke-width="1.2"/>
<line x1="166.0" y1="652.8" x2="169.6" y2="652.8" stroke="#000" stroke-width="1.2"/>
<line x1="173.5" y1="638.8" x2="173.5" y2="620.0" stroke="#000" stroke-width="1.6"/>
<line x1="171.7" y1="620.0" x2="175.3" y2="620.0" stroke="#000" stroke-width="1.2"/>
<line x1="171.7" y1="638.8" x2="175.3" y2="638.8" stroke="#000" stroke-width="1.2"/>
<line x1="182.0" y1="623.6" x2="182.0" y2="598.9" stroke="#000" stroke-width="1.6"/>
<line x1="180.2" y1="598.9" x2="183.8" y2="598.9" stroke="#000" stroke-width="1.2"/>
<line x1="180.2" y1="623.6" x2="183.8" y2="623.6" stroke="#000" stroke-width="1.2"/>
<line x1="187.5" y1="614.5" x2="187.5" y2="588.8" stroke="#000" stroke-width="1.6"/>
<line x1="185.7" y1="588.8" x2="189.3" y2="588.8" stroke="#000" stroke-width="1.2"/>
<line x1="185.7" y1="614.5" x2="189.3" y2="614.5" stroke="#000" stroke-width="1.2"/>
<line x1="193.6" y1="610.9" x2="193.6" y2="577.6" stroke="#000" stroke-width="1.6"/>
<line x1="191.8" y1="577.6" x2="195.4" y2="577.6" stroke="#000" stroke-width="1.2"/>
<line x1="191.8" y1="610.9" x2="195.4" y2="610.9" stroke="#000" stroke-width="1.2"/>
<line x1="197.7" y1="604.4" x2="197.7" y2="571.1" stroke="#000" stroke-width="1.6"/>
<line x1="195.9" y1="571.1" x2="199.5" y2="571.1" stroke="#000" stroke-width="1.2"/>
<line x1="195.9" y1="604.4" x2="199.5" y2="604.4" stroke="#000" stroke-width="1.2"/>
<line x1="143.1" y1="691.4" x2="143.1" y2="682.8" stroke="#000" stroke-width="1.6"/>
<line x1="141.3" y1="682.8" x2="144.9" y2="682.8" stroke="#000" stroke-width="1.2"/>
<line x1="141.3" y1="691.4" x2="144.9" y2="691.4" stroke="#000" stroke-width="1.2"/>
<line x1="149.0" y1="680.3" x2="149.0" y2="671.7" stroke="#000" stroke-width="1.6"/>
<line x1="147.2" y1="671.7" x2="150.8" y2="671.7" stroke="#000" stroke-width="1.2"/>
<line x1="147.2" y1="680.3" x2="150.8" y2="680.3" stroke="#000" stroke-width="1.2"/>
<line x1="166.6" y1="674.9" x2="166.6" y2="664.7" stroke="#000" stroke-width="1.6"/>
<line x1="164.8" y1="664.7" x2="168.4" y2="664.7" stroke="#000" stroke-width="1.2"/>
<line x1="164.8" y1="674.9" x2="168.4" y2="674.9" stroke="#000" stroke-width="1.2"/>
<line x1="172.7" y1="666.2" x2="172.7" y2="647.4" stroke="#000" stroke-width="1.6"/>
<line x1="170.9" y1="647.4" x2="174.5" y2="647.4" stroke="#000" stroke-width="1.2"/>
<line x1="170.9" y1="666.2" x2="174.5" y2="666.2" stroke="#000" stroke-width="1.2"/>
<line x1="180.2" y1="660.7" x2="180.2" y2="636.7" stroke="#000" stroke-width="1.6"/>
<line x1="178.4" y1="636.7" x2="182.0" y2="636.7" stroke="#000" stroke-width="1.2"/>
<line x1="178.4" y1="660.7" x2="182.0" y2="660.7" stroke="#000" stroke-width="1.2"/>
<line x1="186.1" y1="659.7" x2="186.1" y2="627.1" stroke="#000" stroke-width="1.6"/>
<line x1="184.3" y1="627.1" x2="187.9" y2="627.1" stroke="#000" stroke-width="1.2"/>
<line x1="184.3" y1="659.7" x2="187.9" y2="659.7" stroke="#000" stroke-width="1.2"/>
<line x1="192.0" y1="655.1" x2="192.0" y2="620.8" stroke="#000" stroke-width="1.6"/>
<line x1="190.2" y1="620.8" x2="193.8" y2="620.8" stroke="#000" stroke-width="1.2"/>
<line x1="190.2" y1="655.1" x2="193.8" y2="655.1" stroke="#000" stroke-width="1.2"/>
<line x1="197.0" y1="648.9" x2="197.0" y2="613.6" stroke="#000" stroke-width="1.6"/>
<line x1="195.2" y1="613.6" x2="198.8" y2="613.6" stroke="#000" stroke-width="1.2"/>
<line x1="195.2" y1="648.9" x2="198.8" y2="648.9" stroke="#000" stroke-width="1.2"/>
<line x1="160.9" y1="684.2" x2="160.9" y2="678.0" stroke="#000" stroke-width="1.2"/>
<line x1="159.7" y1="678.0" x2="162.1" y2="678.0" stroke="#000" stroke-width="1.2"/>
<line x1="159.7" y1="684.2" x2="162.1" y2="684.2" stroke="#000" stroke-width="1.2"/>
<line x1="166.8" y1="690.2" x2="166.8" y2="684.0" stroke="#000" stroke-width="1.2"/>
<line x1="165.6" y1="684.0" x2="168.0" y2="684.0" stroke="#000" stroke-width="1.2"/>
<line x1="165.6" y1="690.2" x2="168.0" y2="690.2" stroke="#000" stroke-width="1.2"/>
<line x1="172.7" y1="693.4" x2="172.7" y2="687.3" stroke="#000" stroke-width="1.2"/>
<line x1="171.5" y1="687.3" x2="173.9" y2="687.3" stroke="#000" stroke-width="1.2"/>
<line x1="171.5" y1="693.4" x2="173.9" y2="693.4" stroke="#000" stroke-width="1.2"/>
<line x1="180.2" y1="696.9" x2="180.2" y2="690.7" stroke="#000" stroke-width="1.2"/>
<line x1="179.0" y1="690.7" x2="181.4" y2="690.7" stroke="#000" stroke-width="1.2"/>
<line x1="179.0" y1="696.9" x2="181.4" y2="696.9" stroke="#000" stroke-width="1.2"/>
<line x1="186.1" y1="697.9" x2="186.1" y2="691.7" stroke="#000" stroke-width="1.2"/>
<line x1="184.9" y1="691.7" x2="187.3" y2="691.7" stroke="#000" stroke-width="1.2"/>
<line x1="184.9" y1="697.9" x2="187.3" y2="697.9" stroke="#000" stroke-width="1.2"/>
<line x1="192.0" y1="699.6" x2="192.0" y2="693.4" stroke="#000" stroke-width="1.2"/>
<line x1="190.8" y1="693.4" x2="193.2" y2="693.4" stroke="#000" stroke-width="1.2"/>
<line x1="190.8" y1="699.6" x2="193.2" y2="699.6" stroke="#000" stroke-width="1.2"/>
<line x1="197.0" y1="705.3" x2="197.0" y2="699.1" stroke="#000" stroke-width="1.2"/>
<line x1="195.8" y1="699.1" x2="198.2" y2="699.1" stroke="#000" stroke-width="1.2"/>
<line x1="195.8" y1="705.3" x2="198.2" y2="705.3" stroke="#000" stroke-width="1.2"/>
<line x1="160.9" y1="686.4" x2="160.9" y2="680.3" stroke="#000" stroke-width="1.2"/>
<line x1="159.7" y1="680.3" x2="162.1" y2="680.3" stroke="#000" stroke-width="1.2"/>
<line x1="159.7" y1="686.4" x2="162.1" y2="686.4" stroke="#000" stroke-width="1.2"/>
<line x1="166.8" y1="692.2" x2="166.8" y2="686.1" stroke="#000" stroke-width="1.2"/>
<line x1="165.6" y1="686.1" x2="168.0" y2="686.1" stroke="#000" stroke-width="1.2"/>
<line x1="165.6" y1="692.2" x2="168.0" y2="692.2" stroke="#000" stroke-width="1.2"/>
<line x1="172.7" y1="698.8" x2="172.7" y2="692.6" stroke="#000" stroke-width="1.2"/>
<line x1="171.5" y1="692.6" x2="173.9" y2="692.6" stroke="#000" stroke-width="1.2"/>
<line x1="171.5" y1="698.8" x2="173.9" y2="698.8" stroke="#000" stroke-width="1.2"/>
<line x1="180.2" y1="701.3" x2="180.2" y2="695.2" stroke="#000" stroke-width="1.2"/>
<line x1="179.0" y1="695.2" x2="181.4" y2="695.2" stroke="#000" stroke-width="1.2"/>
<line x1="179.0" y1="701.3" x2="181.4" y2="701.3" stroke="#000" stroke-width="1.2"/>
<line x1="186.1" y1="700.8" x2="186.1" y2="694.6" stroke="#000" stroke-width="1.2"/>
<line x1="184.9" y1="694.6" x2="187.3" y2="694.6" stroke="#000" stroke-width="1.2"/>
<line x1="184.9" y1="700.8" x2="187.3" y2="700.8" stroke="#000" stroke-width="1.2"/>
<line x1="192.0" y1="703.0" x2="192.0" y2="696.9" stroke="#000" stroke-width="1.2"/>
<line x1="190.8" y1="696.9" x2="193.2" y2="696.9" stroke="#000" stroke-width="1.2"/>
<line x1="190.8" y1="703.0" x2="193.2" y2="703.0" stroke="#000" stroke-width="1.2"/>
<line x1="197.0" y1="707.3" x2="197.0" y2="701.2" stroke="#000" stroke-width="1.2"/>
<line x1="195.8" y1="701.2" x2="198.2" y2="701.2" stroke="#000" stroke-width="1.2"/>
<line x1="195.8" y1="707.3" x2="198.2" y2="707.3" stroke="#000" stroke-width="1.2"/>
<line x1="160.9" y1="687.6" x2="160.9" y2="681.5" stroke="#000" stroke-width="1.2"/>
<line x1="159.7" y1="681.5" x2="162.1" y2="681.5" stroke="#000" stroke-width="1.2"/>
<line x1="159.7" y1="687.6" x2="162.1" y2="687.6" stroke="#000" stroke-width="1.2"/>
<line x1="166.8" y1="694.0" x2="166.8" y2="687.8" stroke="#000" stroke-width="1.2"/>
<line x1="165.6" y1="687.8" x2="168.0" y2="687.8" stroke="#000" stroke-width="1.2"/>
<line x1="165.6" y1="694.0" x2="168.0" y2="694.0" stroke="#000" stroke-width="1.2"/>
<line x1="172.7" y1="696.7" x2="172.7" y2="690.5" stroke="#000" stroke-width="1.2"/>
<line x1="171.5" y1="690.5" x2="173.9" y2="690.5" stroke="#000" stroke-width="1.2"/>
<line x1="171.5" y1="696.7" x2="173.9" y2="696.7" stroke="#000" stroke-width="1.2"/>
<line x1="180.2" y1="700.5" x2="180.2" y2="694.3" stroke="#000" stroke-width="1.2"/>
<line x1="179.0" y1="694.3" x2="181.4" y2="694.3" stroke="#000" stroke-width="1.2"/>
<line x1="179.0" y1="700.5" x2="181.4" y2="700.5" stroke="#000" stroke-width="1.2"/>
<line x1="186.1" y1="703.9" x2="186.1" y2="697.7" stroke="#000" stroke-width="1.2"/>
<line x1="184.9" y1="697.7" x2="187.3" y2="697.7" stroke="#000" stroke-width="1.2"/>
<line x1="184.9" y1="703.9" x2="187.3" y2="703.9" stroke="#000" stroke-width="1.2"/>
<line x1="192.0" y1="704.6" x2="192.0" y2="698.4" stroke="#000" stroke-width="1.2"/>
<line x1="190.8" y1="698.4" x2="193.2" y2="698.4" stroke="#000" stroke-width="1.2"/>
<line x1="190.8" y1="704.6" x2="193.2" y2="704.6" stroke="#000" stroke-width="1.2"/>
<line x1="197.0" y1="708.2" x2="197.0" y2="702.0" stroke="#000" stroke-width="1.2"/>
<line x1="195.8" y1="702.0" x2="198.2" y2="702.0" stroke="#000" stroke-width="1.2"/>
<line x1="195.8" y1="708.2" x2="198.2" y2="708.2" stroke="#000" stroke-width="1.2"/>
<path d="M121.4,701.0 L124.6,704.2 L121.4,707.4 L118.2,704.2 Z" fill="#000"/>
<path d="M130.3,699.0 L133.5,702.2 L130.3,705.4 L127.1,702.2 Z" fill="#000"/>
<path d="M137.2,689.4 L140.4,692.6 L137.2,695.8 L134.0,692.6 Z" fill="#000"/>
<path d="M143.1,681.3 L146.3,684.5 L143.1,687.7 L139.9,684.5 Z" fill="#000"/>
<path d="M149.0,666.8 L152.2,670.0 L149.0,673.2 L145.8,670.0 Z" fill="#000"/>
<path d="M154.9,657.4 L158.1,660.6 L154.9,663.8 L151.7,660.6 Z" fill="#000"/>
<path d="M161.5,648.4 L164.7,651.6 L161.5,654.8 L158.3,651.6 Z" fill="#000"/>
<path d="M167.8,640.7 L171.0,643.9 L167.8,647.1 L164.6,643.9 Z" fill="#000"/>
<path d="M173.5,626.2 L176.7,629.4 L173.5,632.6 L170.3,629.4 Z" fill="#000"/>
<path d="M182.0,608.0 L185.2,611.2 L182.0,614.4 L178.8,611.2 Z" fill="#000"/>
<path d="M187.5,598.4 L190.7,601.6 L187.5,604.8 L184.3,601.6 Z" fill="#000"/>
<path d="M193.6,591.1 L196.8,594.3 L193.6,597.5 L190.4,594.3 Z" fill="#000"/>
<path d="M197.7,584.6 L200.9,587.8 L197.7,591.0 L194.5,587.8 Z" fill="#000"/>
<path d="M121.4,701.4 L124.6,707.0 L118.2,707.0 Z" fill="#000"/>
<path d="M131.3,696.2 L134.5,701.8 L128.1,701.8 Z" fill="#000"/>
<path d="M137.2,692.8 L140.4,698.4 L134.0,698.4 Z" fill="#000"/>
<path d="M143.1,683.9 L146.3,689.5 L139.9,689.5 Z" fill="#000"/>
<path d="M149.0,672.8 L152.2,678.4 L145.8,678.4 Z" fill="#000"/>
<path d="M154.9,664.2 L158.1,669.8 L151.7,669.8 Z" fill="#000"/>
<path d="M160.9,658.2 L164.1,663.8 L157.7,663.8 Z" fill="#000"/>
<path d="M166.6,666.6 L169.8,672.2 L163.4,672.2 Z" fill="#000"/>
<path d="M172.7,653.6 L175.9,659.2 L169.5,659.2 Z" fill="#000"/>
<path d="M180.2,645.5 L183.4,651.1 L177.0,651.1 Z" fill="#000"/>
<path d="M186.1,640.2 L189.3,645.8 L182.9,645.8 Z" fill="#000"/>
<path d="M192.0,634.7 L195.2,640.3 L188.8,640.3 Z" fill="#000"/>
<path d="M197.0,628.1 L200.2,633.7 L193.8,633.7 Z" fill="#000"/>
<rect x="69.3" y="710.0" width="5.6" height="5.6" fill="#fff" stroke="#777" stroke-width="0.9"/>
<path d="M72.1,709.5 L75.4,715.3 L68.8,715.3 Z" fill="#fff" stroke="#777" stroke-width="0.9"/>
<circle cx="72.1" cy="712.8" r="3.0" fill="#fff" stroke="#777" stroke-width="0.9"/>
<rect x="79.2" y="710.0" width="5.6" height="5.6" fill="#fff" stroke="#777" stroke-width="0.9"/>
<path d="M82.0,709.5 L85.3,715.3 L78.7,715.3 Z" fill="#fff" stroke="#777" stroke-width="0.9"/>
<circle cx="82.0" cy="712.8" r="3.0" fill="#fff" stroke="#777" stroke-width="0.9"/>
<rect x="89.0" y="710.0" width="5.6" height="5.6" fill="#fff" stroke="#777" stroke-width="0.9"/>
<path d="M91.8,709.5 L95.1,715.3 L88.5,715.3 Z" fill="#fff" stroke="#777" stroke-width="0.9"/>
<circle cx="91.8" cy="712.8" r="3.0" fill="#fff" stroke="#777" stroke-width="0.9"/>
<rect x="98.9" y="710.0" width="5.6" height="5.6" fill="#fff" stroke="#777" stroke-width="0.9"/>
<path d="M101.7,709.5 L105.0,715.3 L98.4,715.3 Z" fill="#fff" stroke="#777" stroke-width="0.9"/>
<circle cx="101.7" cy="712.8" r="3.0" fill="#fff" stroke="#777" stroke-width="0.9"/>
<rect x="108.7" y="710.0" width="5.6" height="5.6" fill="#fff" stroke="#777" stroke-width="0.9"/>
<path d="M111.5,709.5 L114.8,715.3 L108.2,715.3 Z" fill="#fff" stroke="#777" stroke-width="0.9"/>
<circle cx="111.5" cy="712.8" r="3.0" fill="#fff" stroke="#777" stroke-width="0.9"/>
<circle cx="121.4" cy="702.2" r="3.0" fill="#fff" stroke="#777" stroke-width="0.9"/>
<circle cx="131.3" cy="696.5" r="3.0" fill="#fff" stroke="#777" stroke-width="0.9"/>
<circle cx="137.2" cy="687.1" r="3.0" fill="#fff" stroke="#777" stroke-width="0.9"/>
<circle cx="143.1" cy="678.5" r="3.0" fill="#fff" stroke="#777" stroke-width="0.9"/>
<circle cx="149.0" cy="670.8" r="3.0" fill="#fff" stroke="#777" stroke-width="0.9"/>
<circle cx="154.9" cy="661.4" r="3.0" fill="#fff" stroke="#777" stroke-width="0.9"/>
<circle cx="160.9" cy="681.1" r="3.0" fill="#fff" stroke="#777" stroke-width="0.9"/>
<circle cx="166.8" cy="687.1" r="3.0" fill="#fff" stroke="#777" stroke-width="0.9"/>
<circle cx="172.7" cy="690.4" r="3.0" fill="#fff" stroke="#777" stroke-width="0.9"/>
<circle cx="180.2" cy="693.8" r="3.0" fill="#fff" stroke="#777" stroke-width="0.9"/>
<circle cx="186.1" cy="694.8" r="3.0" fill="#fff" stroke="#777" stroke-width="0.9"/>
<circle cx="192.0" cy="696.5" r="3.0" fill="#fff" stroke="#777" stroke-width="0.9"/>
<circle cx="197.0" cy="702.2" r="3.0" fill="#fff" stroke="#777" stroke-width="0.9"/>
<path d="M121.4,700.1 L124.7,705.9 L118.1,705.9 Z" fill="#fff" stroke="#777" stroke-width="0.9"/>
<path d="M131.3,694.4 L134.6,700.2 L128.0,700.2 Z" fill="#fff" stroke="#777" stroke-width="0.9"/>
<path d="M137.2,686.4 L140.5,692.1 L133.9,692.1 Z" fill="#fff" stroke="#777" stroke-width="0.9"/>
<path d="M143.1,677.8 L146.4,683.6 L139.8,683.6 Z" fill="#fff" stroke="#777" stroke-width="0.9"/>
<path d="M149.0,669.2 L152.3,675.0 L145.7,675.0 Z" fill="#fff" stroke="#777" stroke-width="0.9"/>
<path d="M154.9,659.8 L158.2,665.6 L151.6,665.6 Z" fill="#fff" stroke="#777" stroke-width="0.9"/>
<path d="M160.9,680.0 L164.2,685.8 L157.6,685.8 Z" fill="#fff" stroke="#777" stroke-width="0.9"/>
<path d="M166.8,685.9 L170.1,691.6 L163.5,691.6 Z" fill="#fff" stroke="#777" stroke-width="0.9"/>
<path d="M172.7,692.4 L176.0,698.1 L169.4,698.1 Z" fill="#fff" stroke="#777" stroke-width="0.9"/>
<path d="M180.2,694.9 L183.5,700.7 L176.9,700.7 Z" fill="#fff" stroke="#777" stroke-width="0.9"/>
<path d="M186.1,694.4 L189.4,700.2 L182.8,700.2 Z" fill="#fff" stroke="#777" stroke-width="0.9"/>
<path d="M192.0,696.7 L195.3,702.4 L188.7,702.4 Z" fill="#fff" stroke="#777" stroke-width="0.9"/>
<path d="M197.0,700.9 L200.3,706.7 L193.7,706.7 Z" fill="#fff" stroke="#777" stroke-width="0.9"/>
<rect x="118.6" y="700.1" width="5.6" height="5.6" fill="#fff" stroke="#777" stroke-width="0.9"/>
<rect x="128.5" y="696.3" width="5.6" height="5.6" fill="#fff" stroke="#777" stroke-width="0.9"/>
<rect x="134.4" y="689.8" width="5.6" height="5.6" fill="#fff" stroke="#777" stroke-width="0.9"/>
<rect x="140.3" y="681.7" width="5.6" height="5.6" fill="#fff" stroke="#777" stroke-width="0.9"/>
<rect x="146.2" y="673.7" width="5.6" height="5.6" fill="#fff" stroke="#777" stroke-width="0.9"/>
<rect x="152.1" y="665.8" width="5.6" height="5.6" fill="#fff" stroke="#777" stroke-width="0.9"/>
<rect x="158.1" y="681.7" width="5.6" height="5.6" fill="#fff" stroke="#777" stroke-width="0.9"/>
<rect x="164.0" y="688.1" width="5.6" height="5.6" fill="#fff" stroke="#777" stroke-width="0.9"/>
<rect x="169.9" y="690.8" width="5.6" height="5.6" fill="#fff" stroke="#777" stroke-width="0.9"/>
<rect x="177.4" y="694.6" width="5.6" height="5.6" fill="#fff" stroke="#777" stroke-width="0.9"/>
<rect x="183.3" y="698.0" width="5.6" height="5.6" fill="#fff" stroke="#777" stroke-width="0.9"/>
<rect x="189.2" y="698.7" width="5.6" height="5.6" fill="#fff" stroke="#777" stroke-width="0.9"/>
<rect x="194.2" y="702.3" width="5.6" height="5.6" fill="#fff" stroke="#777" stroke-width="0.9"/>
<line x1="89.0" y1="544.5" x2="97.2" y2="544.5" stroke="#000" stroke-width="0.9"/>
<path d="M93.1,541.8 L95.8,544.5 L93.1,547.2 L90.4,544.5 Z" fill="#000"/>
<text x="99.7" y="548.4" font-size="11" font-weight="bold" textLength="21.6" lengthAdjust="spacingAndGlyphs" fill="#000">UNT</text>
<line x1="89.0" y1="560.4" x2="97.2" y2="560.4" stroke="#000" stroke-width="0.9"/>
<path d="M93.1,557.7 L95.8,562.4 L90.4,562.4 Z" fill="#000"/>
<text x="99.7" y="564.3" font-size="11" font-weight="bold" textLength="50.3" lengthAdjust="spacingAndGlyphs" fill="#000">FR-z CAR</text>
<line x1="89.0" y1="576.0" x2="97.2" y2="576.0" stroke="#8a8a8a" stroke-width="0.9"/>
<rect x="90.9" y="573.8" width="4.4" height="4.4" fill="#fff" stroke="#999" stroke-width="0.9"/>
<text x="99.7" y="579.9" font-size="11" font-weight="bold" textLength="64.1" lengthAdjust="spacingAndGlyphs" fill="#000">FR-27z CAR</text>
<line x1="89.0" y1="591.4" x2="97.2" y2="591.4" stroke="#8a8a8a" stroke-width="0.9"/>
<path d="M93.1,588.8 L95.7,593.3 L90.5,593.3 Z" fill="#fff" stroke="#999" stroke-width="0.9"/>
<text x="99.7" y="595.3" font-size="11" font-weight="bold" textLength="64.1" lengthAdjust="spacingAndGlyphs" fill="#000">FR-28z CAR</text>
<line x1="89.0" y1="606.5" x2="97.2" y2="606.5" stroke="#8a8a8a" stroke-width="0.9"/>
<circle cx="93.1" cy="606.5" r="2.3" fill="#fff" stroke="#999" stroke-width="0.9"/>
<text x="99.7" y="610.4" font-size="11" font-weight="bold" textLength="68.0" lengthAdjust="spacingAndGlyphs" fill="#000">FR-BBz CAR</text>
<text x="235.8" y="523.2" font-size="14.6" font-weight="bold" textLength="9.4" lengthAdjust="spacingAndGlyphs" fill="#000">E</text>
<text transform="translate(266.6,558.0) rotate(-90)" x="0" y="0" font-size="9.5" font-weight="bold" text-anchor="middle" textLength="93.0" lengthAdjust="spacingAndGlyphs" class="cal" fill="#000">Peripheral blood T cell</text>
<text transform="translate(281.0,558.0) rotate(-90)" x="0" y="0" font-size="9.5" font-weight="bold" text-anchor="middle" textLength="67.0" lengthAdjust="spacingAndGlyphs" class="cal" fill="#000">counts (cells/µl)</text>
<path d="M312.5,519.5 L312.5,599.7 L470.5,599.7" fill="none" stroke="#333" stroke-width="1.2"/>
<line x1="309.5" y1="599.7" x2="312.5" y2="599.7" stroke="#333" stroke-width="1.1"/>
<text x="308.5" y="602.6" font-size="9.6" font-weight="bold" text-anchor="end" textLength="5.0" lengthAdjust="spacingAndGlyphs" class="cal" fill="#000">0</text>
<line x1="309.5" y1="586.3" x2="312.5" y2="586.3" stroke="#333" stroke-width="1.1"/>
<text x="308.5" y="589.2" font-size="9.6" font-weight="bold" text-anchor="end" textLength="15.6" lengthAdjust="spacingAndGlyphs" class="cal" fill="#000">250</text>
<line x1="309.5" y1="573.0" x2="312.5" y2="573.0" stroke="#333" stroke-width="1.1"/>
<text x="308.5" y="575.9" font-size="9.6" font-weight="bold" text-anchor="end" textLength="15.6" lengthAdjust="spacingAndGlyphs" class="cal" fill="#000">500</text>
<line x1="309.5" y1="559.6" x2="312.5" y2="559.6" stroke="#333" stroke-width="1.1"/>
<text x="308.5" y="562.5" font-size="9.6" font-weight="bold" text-anchor="end" textLength="15.6" lengthAdjust="spacingAndGlyphs" class="cal" fill="#000">750</text>
<line x1="309.5" y1="546.2" x2="312.5" y2="546.2" stroke="#333" stroke-width="1.1"/>
<text x="308.5" y="549.1" font-size="9.6" font-weight="bold" text-anchor="end" textLength="20.8" lengthAdjust="spacingAndGlyphs" class="cal" fill="#000">1000</text>
<line x1="309.5" y1="532.9" x2="312.5" y2="532.9" stroke="#333" stroke-width="1.1"/>
<text x="308.5" y="535.8" font-size="9.6" font-weight="bold" text-anchor="end" textLength="20.8" lengthAdjust="spacingAndGlyphs" class="cal" fill="#000">1250</text>
<line x1="309.5" y1="519.5" x2="312.5" y2="519.5" stroke="#333" stroke-width="1.1"/>
<text x="308.5" y="522.4" font-size="9.6" font-weight="bold" text-anchor="end" textLength="20.8" lengthAdjust="spacingAndGlyphs" class="cal" fill="#000">1500</text>
<line x1="328.0" y1="596.4" x2="328.0" y2="595.7" stroke="#000" stroke-width="1.3"/>
<line x1="322.5" y1="595.7" x2="333.5" y2="595.7" stroke="#000" stroke-width="1.3"/>
<rect x="317.3" y="596.4" width="21.4" height="2.2" fill="#fff" stroke="#000" stroke-width="1.3"/>
<rect x="316.7" y="598.6" width="22.7" height="1.1" fill="#000"/>
<line x1="360.0" y1="579.6" x2="360.0" y2="577.1" stroke="#000" stroke-width="1.3"/>
<line x1="354.5" y1="577.1" x2="365.5" y2="577.1" stroke="#000" stroke-width="1.3"/>
<rect x="349.3" y="579.6" width="21.4" height="12.0" fill="#fff" stroke="#000" stroke-width="1.3"/>
<rect x="348.7" y="591.6" width="22.7" height="8.1" fill="#000"/>
<line x1="360.0" y1="591.6" x2="360.0" y2="589.9" stroke="#000" stroke-width="1.3"/>
<line x1="354.5" y1="589.9" x2="365.5" y2="589.9" stroke="#000" stroke-width="1.3"/>
<line x1="392.0" y1="556.9" x2="392.0" y2="547.1" stroke="#000" stroke-width="1.3"/>
<line x1="386.5" y1="547.1" x2="397.5" y2="547.1" stroke="#000" stroke-width="1.3"/>
<rect x="381.3" y="556.9" width="21.4" height="25.7" fill="#fff" stroke="#000" stroke-width="1.3"/>
<rect x="380.7" y="582.6" width="22.7" height="17.1" fill="#000"/>
<line x1="392.0" y1="582.6" x2="392.0" y2="577.9" stroke="#000" stroke-width="1.3"/>
<line x1="386.5" y1="577.9" x2="397.5" y2="577.9" stroke="#000" stroke-width="1.3"/>
<line x1="424.0" y1="584.7" x2="424.0" y2="582.6" stroke="#000" stroke-width="1.3"/>
<line x1="418.5" y1="582.6" x2="429.5" y2="582.6" stroke="#000" stroke-width="1.3"/>
<rect x="413.3" y="584.7" width="21.4" height="7.3" fill="#fff" stroke="#000" stroke-width="1.3"/>
<rect x="412.7" y="592.0" width="22.7" height="7.7" fill="#000"/>
<line x1="424.0" y1="592.0" x2="424.0" y2="591.1" stroke="#000" stroke-width="1.3"/>
<line x1="418.5" y1="591.1" x2="429.5" y2="591.1" stroke="#000" stroke-width="1.3"/>
<line x1="455.6" y1="552.8" x2="455.6" y2="539.9" stroke="#000" stroke-width="1.3"/>
<line x1="450.1" y1="539.9" x2="461.1" y2="539.9" stroke="#000" stroke-width="1.3"/>
<rect x="444.9" y="552.8" width="21.4" height="26.0" fill="#fff" stroke="#000" stroke-width="1.3"/>
<rect x="444.3" y="578.8" width="22.7" height="20.9" fill="#000"/>
<line x1="455.6" y1="578.8" x2="455.6" y2="572.0" stroke="#000" stroke-width="1.3"/>
<line x1="450.1" y1="572.0" x2="461.1" y2="572.0" stroke="#000" stroke-width="1.3"/>
<line x1="328.0" y1="599.7" x2="328.0" y2="601.9000000000001" stroke="#333" stroke-width="1"/>
<line x1="360.0" y1="599.7" x2="360.0" y2="601.9000000000001" stroke="#333" stroke-width="1"/>
<line x1="392.0" y1="599.7" x2="392.0" y2="601.9000000000001" stroke="#333" stroke-width="1"/>
<line x1="424.0" y1="599.7" x2="424.0" y2="601.9000000000001" stroke="#333" stroke-width="1"/>
<line x1="455.6" y1="599.7" x2="455.6" y2="601.9000000000001" stroke="#333" stroke-width="1"/>
<text x="319.8" y="610.2" font-size="8.5" font-weight="bold" textLength="17.0" lengthAdjust="spacingAndGlyphs" class="cal" fill="#000">UNT</text>
<text x="350.9" y="610.2" font-size="8.5" font-weight="bold" textLength="16.3" lengthAdjust="spacingAndGlyphs" class="cal" fill="#000">FR-z</text>
<text x="381.3" y="610.2" font-size="8.5" font-weight="bold" textLength="25.4" lengthAdjust="spacingAndGlyphs" class="cal" fill="#000">FR-27z</text>
<text x="414.0" y="610.2" font-size="8.5" font-weight="bold" textLength="25.0" lengthAdjust="spacingAndGlyphs" class="cal" fill="#000">FR-28z</text>
<text x="445.6" y="610.2" font-size="8.5" font-weight="bold" textLength="26.2" lengthAdjust="spacingAndGlyphs" class="cal" fill="#000">FR-BBz</text>
<rect x="321.5" y="507.7" width="9.7" height="7.7" fill="#000"/>
<rect x="322.1" y="518.3" width="8.5" height="6.5" fill="#fff" stroke="#000" stroke-width="1.2"/>
<text x="335.8" y="514.8" font-size="8.2" font-weight="bold" textLength="42.3" lengthAdjust="spacingAndGlyphs" class="cal" fill="#000">CD4 T cells</text>
<text x="335.8" y="524.8" font-size="8.2" font-weight="bold" textLength="42.3" lengthAdjust="spacingAndGlyphs" class="cal" fill="#000">CD8 T cells</text>
<text x="235.2" y="635.9" font-size="14.6" font-weight="bold" textLength="8.6" lengthAdjust="spacingAndGlyphs" fill="#000">F</text>
<text transform="translate(291.6,669.0) rotate(-90)" x="0" y="0" font-size="10" font-weight="bold" text-anchor="middle" textLength="86.5" lengthAdjust="spacingAndGlyphs" class="cal" fill="#000">CAR expression (%)</text>
<path d="M312.7,630.4 L312.7,712.3 L472.3,712.3" fill="none" stroke="#333" stroke-width="1.2"/>
<line x1="309.7" y1="712.3" x2="312.7" y2="712.3" stroke="#333" stroke-width="1.1"/>
<text x="308.8" y="715.9" font-size="10" font-weight="bold" text-anchor="end" class="cal" fill="#000">0</text>
<line x1="309.7" y1="695.9" x2="312.7" y2="695.9" stroke="#333" stroke-width="1.1"/>
<text x="308.8" y="699.5" font-size="10" font-weight="bold" text-anchor="end" class="cal" fill="#000">10</text>
<line x1="309.7" y1="679.5" x2="312.7" y2="679.5" stroke="#333" stroke-width="1.1"/>
<text x="308.8" y="683.1" font-size="10" font-weight="bold" text-anchor="end" class="cal" fill="#000">20</text>
<line x1="309.7" y1="663.2" x2="312.7" y2="663.2" stroke="#333" stroke-width="1.1"/>
<text x="308.8" y="666.8" font-size="10" font-weight="bold" text-anchor="end" class="cal" fill="#000">30</text>
<line x1="309.7" y1="646.8" x2="312.7" y2="646.8" stroke="#333" stroke-width="1.1"/>
<text x="308.8" y="650.4" font-size="10" font-weight="bold" text-anchor="end" class="cal" fill="#000">40</text>
<line x1="309.7" y1="630.4" x2="312.7" y2="630.4" stroke="#333" stroke-width="1.1"/>
<text x="308.8" y="634.0" font-size="10" font-weight="bold" text-anchor="end" class="cal" fill="#000">50</text>
<line x1="360.2" y1="696.9" x2="360.2" y2="696.1" stroke="#000" stroke-width="1.3"/>
<line x1="354.7" y1="696.1" x2="365.7" y2="696.1" stroke="#000" stroke-width="1.3"/>
<rect x="349.2" y="696.9" width="22" height="15.4" fill="#000"/>
<line x1="391.5" y1="685.4" x2="391.5" y2="682.3" stroke="#000" stroke-width="1.3"/>
<line x1="386.0" y1="682.3" x2="397.0" y2="682.3" stroke="#000" stroke-width="1.3"/>
<rect x="380.5" y="685.4" width="22" height="26.9" fill="#000"/>
<line x1="422.9" y1="645.8" x2="422.9" y2="642.4" stroke="#000" stroke-width="1.3"/>
<line x1="417.4" y1="642.4" x2="428.4" y2="642.4" stroke="#000" stroke-width="1.3"/>
<rect x="411.9" y="645.8" width="22" height="66.5" fill="#000"/>
<line x1="454.4" y1="684.3" x2="454.4" y2="678.6" stroke="#000" stroke-width="1.3"/>
<line x1="448.9" y1="678.6" x2="459.9" y2="678.6" stroke="#000" stroke-width="1.3"/>
<rect x="443.4" y="684.3" width="22" height="28.0" fill="#000"/>
<line x1="328.0" y1="712.3" x2="328.0" y2="714.5" stroke="#333" stroke-width="1"/>
<line x1="360.2" y1="712.3" x2="360.2" y2="714.5" stroke="#333" stroke-width="1"/>
<line x1="391.5" y1="712.3" x2="391.5" y2="714.5" stroke="#333" stroke-width="1"/>
<line x1="422.9" y1="712.3" x2="422.9" y2="714.5" stroke="#333" stroke-width="1"/>
<line x1="454.4" y1="712.3" x2="454.4" y2="714.5" stroke="#333" stroke-width="1"/>
<text x="319.6" y="723.8" font-size="8.5" font-weight="bold" textLength="16.9" lengthAdjust="spacingAndGlyphs" class="cal" fill="#000">UNT</text>
<text x="350.5" y="723.8" font-size="8.5" font-weight="bold" textLength="16.3" lengthAdjust="spacingAndGlyphs" class="cal" fill="#000">FR-z</text>
<text x="380.3" y="723.8" font-size="8.5" font-weight="bold" textLength="25.2" lengthAdjust="spacingAndGlyphs" class="cal" fill="#000">FR-27z</text>
<text x="412.0" y="723.8" font-size="8.5" font-weight="bold" textLength="25.0" lengthAdjust="spacingAndGlyphs" class="cal" fill="#000">FR-28z</text>
<text x="443.6" y="723.8" font-size="8.5" font-weight="bold" textLength="26.2" lengthAdjust="spacingAndGlyphs" class="cal" fill="#000">FR-BBz</text>
</svg>
</body></html>
